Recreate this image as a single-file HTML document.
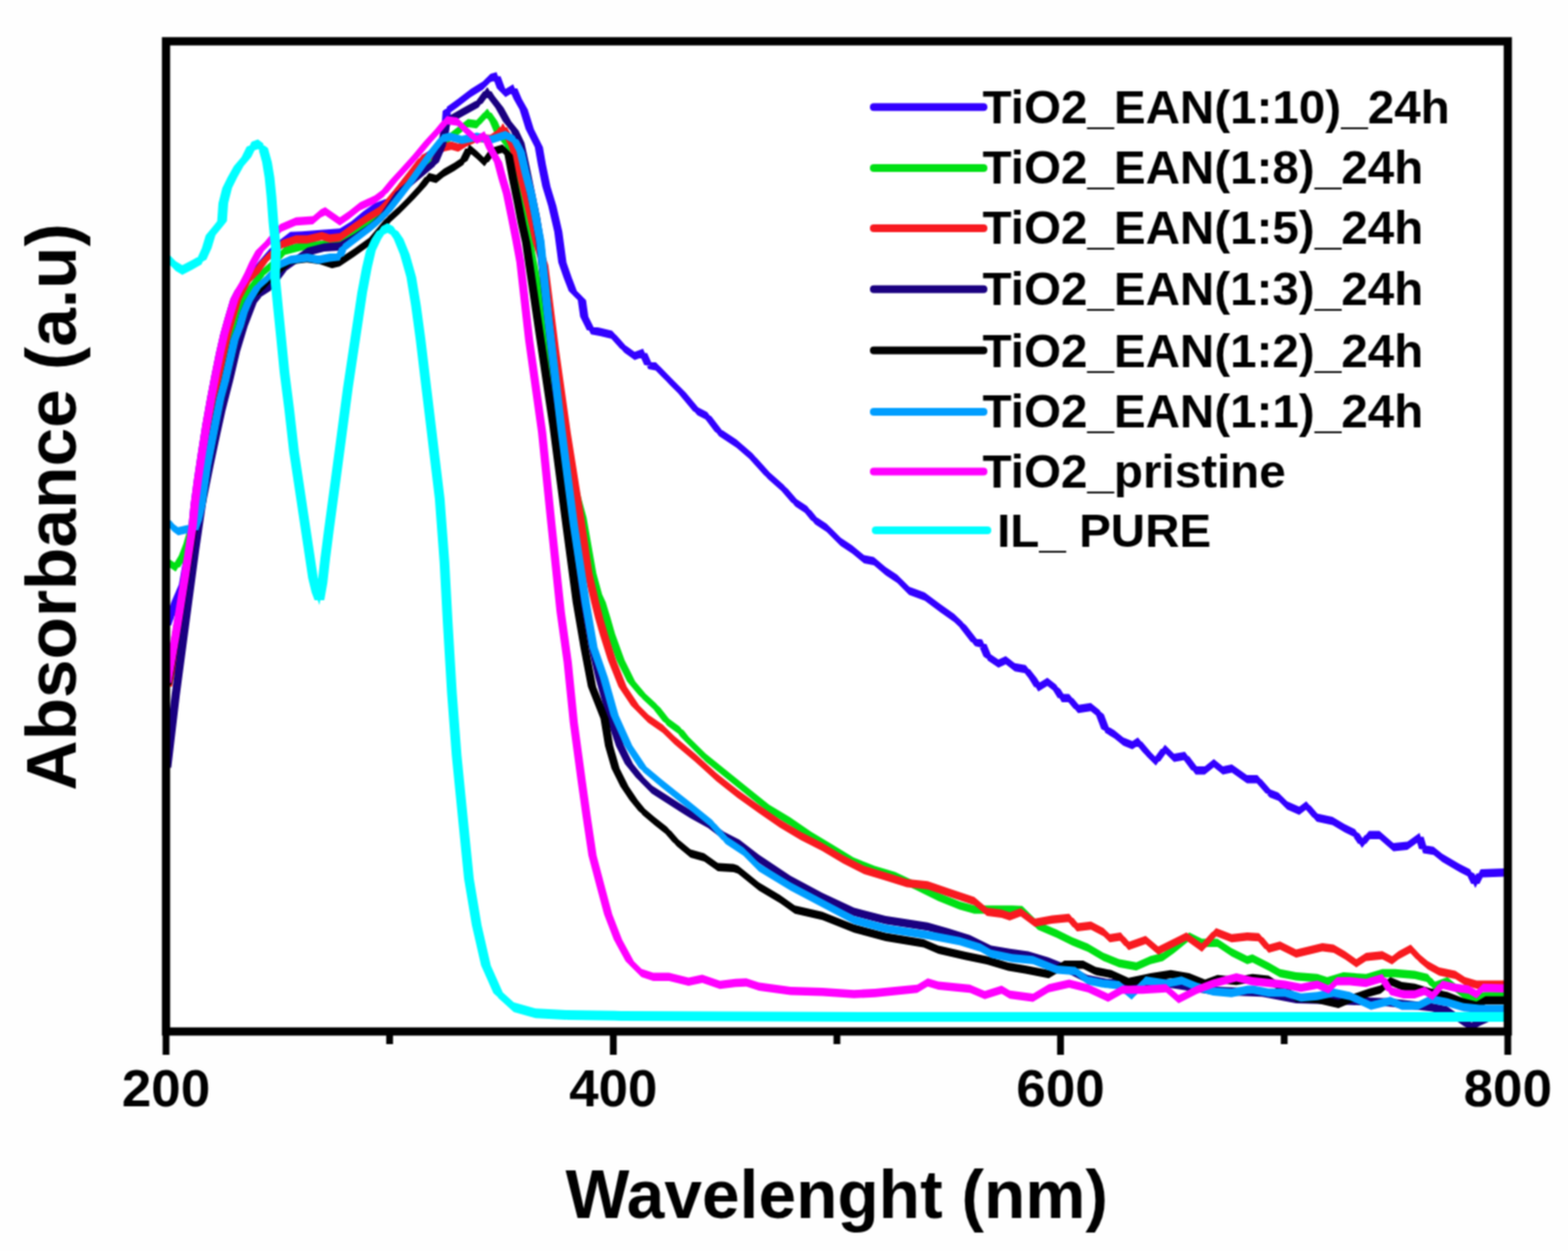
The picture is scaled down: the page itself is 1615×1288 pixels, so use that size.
<!DOCTYPE html>
<html><head><meta charset="utf-8"><title>Absorbance spectra</title>
<style>
html,body{margin:0;padding:0;background:#fefefe;}
body{width:1615px;height:1288px;overflow:hidden;}
svg{display:block;}
text{font-family:"Liberation Sans",Arial,sans-serif;font-weight:bold;fill:#000;}
</style></head><body>
<svg width="1615" height="1288" viewBox="0 0 1615 1288">

<defs><filter id="soft" x="0" y="0" width="1615" height="1288" filterUnits="userSpaceOnUse" color-interpolation-filters="sRGB"><feConvolveMatrix order="3" kernelMatrix="1 2 1 2 4 2 1 2 1" divisor="16" edgeMode="duplicate"/></filter></defs>
<rect x="0" y="0" width="1615" height="1288" fill="#fefefe"/>
<g filter="url(#soft)">
<rect x="171" y="42.5" width="1382" height="1019.5" fill="#fff"/>
<g fill="none" stroke-linejoin="round" stroke-linecap="round">
<path fill="#3300ff" stroke="none" d="M172,639.8 181,614.8 181,623.2 172,648.2ZM167.8,644 176.8,619 185.2,619 176.2,644ZM181,614.8 188.4,597.5 188.4,606 181,623.2ZM176.8,619 184.2,601.7 192.7,601.7 185.2,619ZM188.4,597.5 194,565.8 194,574.2 188.4,606ZM184.2,601.7 189.8,570 198.2,570 192.7,601.7ZM194,565.8 198.3,537.8 198.3,546.2 194,574.2ZM189.8,570 194.1,542 202.6,542 198.2,570ZM198.3,537.8 200.5,515.8 200.5,524.2 198.3,546.2ZM194.1,542 196.2,520 204.8,520 202.6,542ZM200.5,515.8 204,488.8 204,497.2 200.5,524.2ZM196.2,520 199.8,493 208.2,493 204.8,520ZM204,488.8 208,462.1 208,470.6 204,497.2ZM199.8,493 203.8,466.3 212.2,466.3 208.2,493ZM208,462.1 212.5,433.8 212.5,442.2 208,470.6ZM203.8,466.3 208.2,438 216.8,438 212.2,466.3ZM212.5,433.8 217.3,406.1 217.3,414.6 212.5,442.2ZM208.2,438 213.1,410.4 221.6,410.4 216.8,438ZM217.3,406.1 222,381.8 222,390.2 217.3,414.6ZM213.1,410.4 217.8,386 226.2,386 221.6,410.4ZM222,381.8 226.6,359.6 226.6,368.1 222,390.2ZM217.8,386 222.3,363.8 230.8,363.8 226.2,386ZM226.6,359.6 231,339.8 231,348.2 226.6,368.1ZM222.3,363.8 226.8,344 235.2,344 230.8,363.8ZM231,339.8 235.9,322.4 235.9,330.9 231,348.2ZM226.8,344 231.7,326.6 240.2,326.6 235.2,344ZM235.9,322.4 241.5,303.8 241.5,312.2 235.9,330.9ZM231.7,326.6 237.2,308 245.8,308 240.2,326.6ZM241.5,303.8 246,294.8 246,303.2 241.5,312.2ZM237.2,308 241.8,299 250.2,299 245.8,308ZM246,294.8 252,287.8 252,296.2 246,303.2ZM241.8,299 247.8,292 256.2,292 250.2,299ZM252,287.8 260,278.8 260,287.2 252,296.2ZM247.8,292 255.8,283 264.2,283 256.2,292ZM260,278.8 270,265.8 270,274.2 260,287.2ZM255.8,283 265.8,270 274.2,270 264.2,283ZM270,265.8 282,251.8 282,260.2 270,274.2ZM265.8,270 277.8,256 286.2,256 274.2,270ZM282,251.8 299,238.8 299,247.3 282,260.2ZM277.8,256 294.8,243.1 303.2,243.1 286.2,256ZM299,238.8 310.6,238.2 310.6,246.8 299,247.3ZM294.8,243.1 306.4,242.5 314.9,242.5 303.2,243.1ZM310.6,238.2 330,236.8 330,245.2 310.6,246.8ZM306.4,242.5 325.8,241 334.2,241 314.9,242.5ZM330,236.8 350,235.3 350,243.8 330,245.2ZM325.8,241 345.8,239.6 354.2,239.6 334.2,241ZM350,235.3 362,227.8 362,236.2 350,243.8ZM345.8,239.6 357.8,232 366.2,232 354.2,239.6ZM362,227.8 374.3,217.6 374.3,226.1 362,236.2ZM357.8,232 370.1,221.8 378.6,221.8 366.2,232ZM374.3,217.6 385.9,209.3 385.9,217.8 374.3,226.1ZM370.1,221.8 381.6,213.6 390.1,213.6 378.6,221.8ZM385.9,209.3 399.9,203.8 399.9,212.2 385.9,217.8ZM381.6,213.6 395.6,208 404.1,208 390.1,213.6ZM399.9,203.8 411.5,189.8 411.5,198.2 399.9,212.2ZM395.6,208 407.2,194 415.8,194 404.1,208ZM411.5,189.8 423.2,174.8 423.2,183.2 411.5,198.2ZM407.2,194 418.9,179 427.4,179 415.8,194ZM423.2,174.8 434.8,159.8 434.8,168.2 423.2,183.2ZM418.9,179 430.6,164 439.1,164 427.4,179ZM434.8,159.8 444,153.8 444,162.2 434.8,168.2ZM430.6,164 439.8,158 448.2,158 439.1,164ZM444,153.8 452,152.8 452,161.2 444,162.2ZM439.8,158 447.8,157 456.2,157 448.2,158ZM452,152.8 456,145.8 456,154.2 452,161.2ZM447.8,157 451.8,150 460.2,150 456.2,157ZM456,145.8 459,125.8 459,134.2 456,154.2ZM451.8,150 454.8,130 463.2,130 460.2,150ZM459,125.8 460.2,110 460.2,118.5 459,134.2ZM454.8,130 455.9,114.3 464.4,114.3 463.2,130ZM460.2,110 471,102.3 471,110.8 460.2,118.5ZM455.9,114.3 466.8,106.6 475.2,106.6 464.4,114.3ZM471,102.3 485,91.5 485,100 471,110.8ZM466.8,106.6 480.8,95.7 489.2,95.7 475.2,106.6ZM485,91.5 497.5,83.8 497.5,92.2 485,100ZM480.8,95.7 493.2,88 501.8,88 489.2,95.7ZM497.5,83.8 505.2,76 505.2,84.5 497.5,92.2ZM493.2,88 500.9,80.2 509.4,80.2 501.8,88ZM505.2,76 511.4,74.3 511.4,82.8 505.2,84.5ZM500.9,80.2 507.1,78.6 515.6,78.6 509.4,80.2ZM511.4,74.3 516,86.8 516,95.2 511.4,82.8ZM515.6,78.6 520.2,91 511.8,91 507.1,78.6ZM516,86.8 520.7,91.5 520.7,100 516,95.2ZM520.2,91 525,95.7 516.5,95.7 511.8,91ZM520.7,91.5 528.5,86.8 528.5,95.2 520.7,100ZM516.5,95.7 524.2,91 532.8,91 525,95.7ZM528.5,86.8 533.2,97.8 533.2,106.2 528.5,95.2ZM532.8,91 537.5,102 529,102 524.2,91ZM533.2,97.8 539.4,108.5 539.4,117 533.2,106.2ZM537.5,102 543.6,112.8 535.1,112.8 529,102ZM539.4,108.5 545.6,128.8 545.6,137.2 539.4,117ZM543.6,112.8 549.9,133 541.4,133 535.1,112.8ZM545.6,128.8 555,147.3 555,155.8 545.6,137.2ZM549.9,133 559.2,151.6 550.8,151.6 541.4,133ZM555,147.3 558,164.4 558,172.9 555,155.8ZM559.2,151.6 562.2,168.7 553.8,168.7 550.8,151.6ZM558,164.4 562.7,187.8 562.7,196.2 558,172.9ZM562.2,168.7 567,192 558.5,192 553.8,168.7ZM562.7,187.8 568.9,207.8 568.9,216.2 562.7,196.2ZM567,192 573.1,212 564.6,212 558.5,192ZM568.9,207.8 575,234.3 575,242.8 568.9,216.2ZM573.1,212 579.2,238.6 570.8,238.6 564.6,212ZM575,234.3 579.2,265.9 579.2,274.4 575,242.8ZM579.2,238.6 583.5,270.2 575,270.2 570.8,238.6ZM579.2,265.9 584.6,281.4 584.6,289.9 579.2,274.4ZM583.5,270.2 588.9,285.7 580.4,285.7 575,270.2ZM584.6,281.4 590,295.4 590,303.9 584.6,289.9ZM588.9,285.7 594.2,299.7 585.8,299.7 580.4,285.7ZM590,295.4 599.4,304.8 599.4,313.2 590,303.9ZM594.2,299.7 603.6,309 595.1,309 585.8,299.7ZM599.4,304.8 601.7,321.8 601.7,330.2 599.4,313.2ZM603.6,309 606,326 597.5,326 595.1,309ZM601.7,321.8 608.7,335.8 608.7,344.2 601.7,330.2ZM606,326 613,340 604.5,340 597.5,326ZM608.7,335.8 618,337.4 618,345.9 608.7,344.2ZM613,340 622.2,341.6 613.8,341.6 604.5,340ZM618,337.4 630.4,340.4 630.4,348.9 618,345.9ZM622.2,341.6 634.6,344.7 626.1,344.7 613.8,341.6ZM630.4,340.4 642.9,354.4 642.9,362.9 630.4,348.9ZM634.6,344.7 647.1,358.7 638.6,358.7 626.1,344.7ZM642.9,354.4 653.7,362.2 653.7,370.8 642.9,362.9ZM647.1,358.7 658,366.5 649.5,366.5 638.6,358.7ZM653.7,362.2 662.3,359.1 662.3,367.6 653.7,370.8ZM649.5,366.5 658,363.4 666.5,363.4 658,366.5ZM662.3,359.1 667.7,371.6 667.7,380.1 662.3,367.6ZM666.5,363.4 672,375.8 663.5,375.8 658,363.4ZM667.7,371.6 675.5,373.1 675.5,381.6 667.7,380.1ZM672,375.8 679.8,377.3 671.2,377.3 663.5,375.8ZM675.5,373.1 686.3,383.9 686.3,392.4 675.5,381.6ZM679.8,377.3 690.5,388.2 682,388.2 671.2,377.3ZM686.3,383.9 690,387.9 690,396.4 686.3,392.4ZM690.5,388.2 694.2,392.1 685.8,392.1 682,388.2ZM690,387.9 702.1,399.9 702.1,408.4 690,396.4ZM694.2,392.1 706.4,404.2 697.9,404.2 685.8,392.1ZM702.1,399.9 718.3,419.1 718.3,427.6 702.1,408.4ZM706.4,404.2 722.5,423.4 714,423.4 697.9,404.2ZM718.3,419.1 728.4,424.2 728.4,432.8 718.3,427.6ZM722.5,423.4 732.6,428.5 724.1,428.5 714,423.4ZM728.4,424.2 740.5,440.4 740.5,448.9 728.4,432.8ZM732.6,428.5 744.8,444.6 736.2,444.6 724.1,428.5ZM740.5,440.4 758.6,452.4 758.6,460.9 740.5,448.9ZM744.8,444.6 762.9,456.7 754.4,456.7 736.2,444.6ZM758.6,452.4 774.8,466.6 774.8,475.1 758.6,460.9ZM762.9,456.7 779,470.9 770.5,470.9 754.4,456.7ZM774.8,466.6 791,484.8 791,493.2 774.8,475.1ZM779,470.9 795.2,489 786.8,489 770.5,470.9ZM791,484.8 807.1,498.9 807.1,507.4 791,493.2ZM795.2,489 811.4,503.2 802.9,503.2 786.8,489ZM807.1,498.9 819.2,513 819.2,521.5 807.1,507.4ZM811.4,503.2 823.5,517.3 815,517.3 802.9,503.2ZM819.2,513 831.3,521.1 831.3,529.6 819.2,521.5ZM823.5,517.3 835.5,525.4 827,525.4 815,517.3ZM831.3,521.1 839.4,531.2 839.4,539.8 831.3,529.6ZM835.5,525.4 843.6,535.5 835.1,535.5 827,525.4ZM839.4,531.2 851.5,539.2 851.5,547.8 839.4,539.8ZM843.6,535.5 855.8,543.5 847.2,543.5 835.1,535.5ZM851.5,539.2 865.7,553.5 865.7,562 851.5,547.8ZM855.8,543.5 870,557.7 861.5,557.7 847.2,543.5ZM865.7,553.5 877.8,561.5 877.8,570 865.7,562ZM870,557.7 882,565.7 873.5,565.7 861.5,557.7ZM877.8,561.5 889.9,571.5 889.9,580 877.8,570ZM882,565.7 894.1,575.8 885.6,575.8 873.5,565.7ZM889.9,571.5 900,573.6 900,582.1 889.9,580ZM894.1,575.8 904.2,577.9 895.8,577.9 885.6,575.8ZM900,573.6 912.1,583.8 912.1,592.2 900,582.1ZM904.2,577.9 916.4,588 907.9,588 895.8,577.9ZM912.1,583.8 924.2,591.8 924.2,600.2 912.1,592.2ZM916.4,588 928.5,596 920,596 907.9,588ZM924.2,591.8 936.3,603.9 936.3,612.4 924.2,600.2ZM928.5,596 940.5,608.1 932,608.1 920,596ZM936.3,603.9 952.5,610 952.5,618.5 936.3,612.4ZM940.5,608.1 956.8,614.2 948.2,614.2 932,608.1ZM952.5,610 968.6,622 968.6,630.5 952.5,618.5ZM956.8,614.2 972.9,626.3 964.4,626.3 948.2,614.2ZM968.6,622 982.8,632.1 982.8,640.6 968.6,630.5ZM972.9,626.3 987,636.4 978.5,636.4 964.4,626.3ZM982.8,632.1 991.2,640 991.2,648.5 982.8,640.6ZM987,636.4 995.5,644.2 987,644.2 978.5,636.4ZM991.2,640 1004.2,656.8 1004.2,665.2 991.2,648.5ZM995.5,644.2 1008.5,661 1000,661 987,644.2ZM1004.2,656.8 1011.7,658.6 1011.7,667.1 1004.2,665.2ZM1008.5,661 1016,662.9 1007.5,662.9 1000,661ZM1011.7,658.6 1017.3,671.6 1017.3,680.1 1011.7,667.1ZM1016,662.9 1021.5,675.9 1013,675.9 1007.5,662.9ZM1017.3,671.6 1028.4,679.1 1028.4,687.6 1017.3,680.1ZM1021.5,675.9 1032.7,683.4 1024.2,683.4 1013,675.9ZM1028.4,679.1 1035.9,675.4 1035.9,683.9 1028.4,687.6ZM1024.2,683.4 1031.7,679.6 1040.2,679.6 1032.7,683.4ZM1035.9,675.4 1045.2,682.8 1045.2,691.2 1035.9,683.9ZM1040.2,679.6 1049.5,687 1041,687 1031.7,679.6ZM1045.2,682.8 1056.4,684.8 1056.4,693.2 1045.2,691.2ZM1049.5,687 1060.7,689 1052.2,689 1041,687ZM1056.4,684.8 1063.8,694 1063.8,702.5 1056.4,693.2ZM1060.7,689 1068,698.3 1059.5,698.3 1052.2,689ZM1063.8,694 1069.4,703.4 1069.4,711.9 1063.8,702.5ZM1068,698.3 1073.7,707.6 1065.2,707.6 1059.5,698.3ZM1069.4,703.4 1078.8,697.8 1078.8,706.2 1069.4,711.9ZM1065.2,707.6 1074.5,702 1083,702 1073.7,707.6ZM1078.8,697.8 1088,705.1 1088,713.6 1078.8,706.2ZM1083,702 1092.2,709.4 1083.8,709.4 1074.5,702ZM1088,705.1 1093.7,714.5 1093.7,723 1088,713.6ZM1092.2,709.4 1098,718.8 1089.5,718.8 1083.8,709.4ZM1093.7,714.5 1101.1,714.5 1101.1,723 1093.7,723ZM1101.1,714.5 1110.4,725.8 1110.4,734.2 1101.1,723ZM1105.3,718.8 1114.7,730 1106.2,730 1096.8,718.8ZM1110.4,725.8 1123.5,723.8 1123.5,732.2 1110.4,734.2ZM1106.2,730 1119.2,728 1127.8,728 1114.7,730ZM1123.5,723.8 1132.8,731.2 1132.8,739.8 1123.5,732.2ZM1127.8,728 1137,735.5 1128.5,735.5 1119.2,728ZM1132.8,731.2 1138.4,746.1 1138.4,754.6 1132.8,739.8ZM1137,735.5 1142.7,750.4 1134.2,750.4 1128.5,735.5ZM1138.4,746.1 1147.7,751.8 1147.7,760.2 1138.4,754.6ZM1142.7,750.4 1152,756 1143.5,756 1134.2,750.4ZM1147.7,751.8 1157,759.2 1157,767.8 1147.7,760.2ZM1152,756 1161.2,763.5 1152.8,763.5 1143.5,756ZM1157,759.2 1166.3,763 1166.3,771.5 1157,767.8ZM1161.2,763.5 1170.5,767.2 1162,767.2 1152.8,763.5ZM1166.3,763 1172,759.2 1172,767.8 1166.3,771.5ZM1162,767.2 1167.8,763.5 1176.2,763.5 1170.5,767.2ZM1172,759.2 1181.2,770.4 1181.2,778.9 1172,767.8ZM1176.2,763.5 1185.5,774.6 1177,774.6 1167.8,763.5ZM1181.2,770.4 1190.5,779.8 1190.5,788.2 1181.2,778.9ZM1185.5,774.6 1194.8,784 1186.2,784 1177,774.6ZM1190.5,779.8 1199.9,766.8 1199.9,775.2 1190.5,788.2ZM1186.2,784 1195.7,771 1204.2,771 1194.8,784ZM1199.9,766.8 1209.2,776 1209.2,784.5 1199.9,775.2ZM1204.2,771 1213.5,780.2 1205,780.2 1195.7,771ZM1209.2,776 1220.4,774.1 1220.4,782.6 1209.2,784.5ZM1205,780.2 1216.2,778.4 1224.7,778.4 1213.5,780.2ZM1220.4,774.1 1231.5,789 1231.5,797.5 1220.4,782.6ZM1224.7,778.4 1235.8,793.3 1227.2,793.3 1216.2,778.4ZM1231.5,789 1240.9,789 1240.9,797.5 1231.5,797.5ZM1240.9,789 1250.2,781.5 1250.2,790 1240.9,797.5ZM1236.7,793.3 1246,785.8 1254.5,785.8 1245.2,793.3ZM1250.2,781.5 1259.5,789 1259.5,797.5 1250.2,790ZM1254.5,785.8 1263.8,793.3 1255.2,793.3 1246,785.8ZM1259.5,789 1268.8,787.1 1268.8,795.6 1259.5,797.5ZM1255.2,793.3 1264.5,791.4 1273,791.4 1263.8,793.3ZM1268.8,787.1 1284.4,798 1284.4,806.5 1268.8,795.6ZM1273,791.4 1288.7,802.3 1280.2,802.3 1264.5,791.4ZM1284.4,798 1295.1,798 1295.1,806.5 1284.4,806.5ZM1295.1,798 1307.7,812.5 1307.7,821 1295.1,806.5ZM1299.3,802.3 1312,816.7 1303.5,816.7 1290.8,802.3ZM1307.7,812.5 1316.7,816 1316.7,824.5 1307.7,821ZM1312,816.7 1321,820.3 1312.5,820.3 1303.5,816.7ZM1316.7,816 1325.7,825 1325.7,833.5 1316.7,824.5ZM1321,820.3 1330,829.3 1321.5,829.3 1312.5,820.3ZM1325.7,825 1338.2,830.4 1338.2,838.9 1325.7,833.5ZM1330,829.3 1342.5,834.6 1334,834.6 1321.5,829.3ZM1338.2,830.4 1345.4,825 1345.4,833.5 1338.2,838.9ZM1334,834.6 1341.2,829.3 1349.7,829.3 1342.5,834.6ZM1345.4,825 1356.2,837.5 1356.2,846 1345.4,833.5ZM1349.7,829.3 1360.5,841.8 1352,841.8 1341.2,829.3ZM1356.2,837.5 1372.4,841.1 1372.4,849.6 1356.2,846ZM1360.5,841.8 1376.7,845.4 1368.2,845.4 1352,841.8ZM1372.4,841.1 1385,848.4 1385,856.9 1372.4,849.6ZM1376.7,845.4 1389.2,852.6 1380.8,852.6 1368.2,845.4ZM1385,848.4 1395.7,853.8 1395.7,862.2 1385,856.9ZM1389.2,852.6 1400,858 1391.5,858 1380.8,852.6ZM1395.7,853.8 1402.9,864.5 1402.9,873 1395.7,862.2ZM1400,858 1407.2,868.8 1398.7,868.8 1391.5,858ZM1402.9,864.5 1410,855.5 1410,864 1402.9,873ZM1398.7,868.8 1405.8,859.8 1414.2,859.8 1407.2,868.8ZM1410,855.5 1420.8,855.5 1420.8,864 1410,864ZM1420.8,855.5 1435.2,868.1 1435.2,876.6 1420.8,864ZM1425,859.8 1439.5,872.4 1431,872.4 1416.5,859.8ZM1435.2,868.1 1449.6,866.4 1449.6,874.9 1435.2,876.6ZM1431,872.4 1445.3,870.6 1453.8,870.6 1439.5,872.4ZM1449.6,866.4 1462.1,857.4 1462.1,865.9 1449.6,874.9ZM1445.3,870.6 1457.8,861.6 1466.3,861.6 1453.8,870.6ZM1462.1,857.4 1465.7,869.9 1465.7,878.4 1462.1,865.9ZM1466.3,861.6 1470,874.1 1461.5,874.1 1457.8,861.6ZM1465.7,869.9 1476.5,871.8 1476.5,880.2 1465.7,878.4ZM1470,874.1 1480.8,876 1472.2,876 1461.5,874.1ZM1476.5,871.8 1485.5,878.9 1485.5,887.4 1476.5,880.2ZM1480.8,876 1489.8,883.1 1481.2,883.1 1472.2,876ZM1485.5,878.9 1503.4,889.6 1503.4,898.1 1485.5,887.4ZM1489.8,883.1 1507.7,893.9 1499.2,893.9 1481.2,883.1ZM1503.4,889.6 1514.2,895 1514.2,903.5 1503.4,898.1ZM1507.7,893.9 1518.5,899.3 1510,899.3 1499.2,893.9ZM1514.2,895 1519.6,905.8 1519.6,914.2 1514.2,903.5ZM1518.5,899.3 1523.8,910 1515.3,910 1510,899.3ZM1519.6,905.8 1525,895 1525,903.5 1519.6,914.2ZM1515.3,910 1520.8,899.3 1529.2,899.3 1523.8,910ZM1525,895 1551,894.1 1551,902.6 1525,903.5ZM1520.8,899.3 1546.8,898.4 1555.2,898.4 1529.2,899.3Z"/>
<path fill="#00e014" stroke="none" d="M173.5,575.1 181,580 181,588.5 173.5,583.6ZM177.8,579.4 185.2,584.3 176.8,584.3 169.2,579.4ZM181,580 188.4,567.8 188.4,576.2 181,588.5ZM176.8,584.3 184.2,572 192.7,572 185.2,584.3ZM188.4,567.8 193,555.8 193,564.2 188.4,576.2ZM184.2,572 188.8,560 197.2,560 192.7,572ZM193,555.8 198.3,537.8 198.3,546.2 193,564.2ZM188.8,560 194.1,542 202.6,542 197.2,560ZM198.3,537.8 205.8,490.8 205.8,499.2 198.3,546.2ZM194.1,542 201.6,495 210.1,495 202.6,542ZM205.8,490.8 210,465.8 210,474.2 205.8,499.2ZM201.6,495 205.8,470 214.2,470 210.1,495ZM210,465.8 214,445.8 214,454.2 210,474.2ZM205.8,470 209.8,450 218.2,450 214.2,470ZM214,445.8 219,420.8 219,429.2 214,454.2ZM209.8,450 214.8,425 223.2,425 218.2,450ZM219,420.8 224,395.8 224,404.2 219,429.2ZM214.8,425 219.8,400 228.2,400 223.2,425ZM224,395.8 229,375.8 229,384.2 224,404.2ZM219.8,400 224.8,380 233.2,380 228.2,400ZM229,375.8 234,355.8 234,364.2 229,384.2ZM224.8,380 229.8,360 238.2,360 233.2,380ZM234,355.8 239,340.8 239,349.2 234,364.2ZM229.8,360 234.8,345 243.2,345 238.2,360ZM239,340.8 244,325.8 244,334.2 239,349.2ZM234.8,345 239.8,330 248.2,330 243.2,345ZM244,325.8 250,307.8 250,316.2 244,334.2ZM239.8,330 245.8,312 254.2,312 248.2,330ZM250,307.8 256,295.8 256,304.2 250,316.2ZM245.8,312 251.8,300 260.2,300 254.2,312ZM256,295.8 262,287.8 262,296.2 256,304.2ZM251.8,300 257.8,292 266.2,292 260.2,300ZM262,287.8 269.9,277.2 269.9,285.8 262,296.2ZM257.8,292 265.6,281.5 274.1,281.5 266.2,292ZM269.9,277.2 279.2,269.1 279.2,277.6 269.9,285.8ZM265.6,281.5 274.9,273.4 283.4,273.4 274.1,281.5ZM279.2,269.1 293.2,253.9 293.2,262.4 279.2,277.6ZM274.9,273.4 288.9,258.2 297.4,258.2 283.4,273.4ZM293.2,253.9 310.6,249.3 310.6,257.9 293.2,262.4ZM288.9,258.2 306.4,253.6 314.9,253.6 297.4,258.2ZM310.6,249.3 328.1,248.2 328.1,256.6 310.6,257.9ZM306.4,253.6 323.9,252.4 332.4,252.4 314.9,253.6ZM328.1,248.2 350,245.8 350,254.2 328.1,256.6ZM323.9,252.4 345.8,250 354.2,250 332.4,252.4ZM350,245.8 370,231.8 370,240.2 350,254.2ZM345.8,250 365.8,236 374.2,236 354.2,250ZM370,231.8 390,217.8 390,226.2 370,240.2ZM365.8,236 385.8,222 394.2,222 374.2,236ZM390,217.8 410,195.8 410,204.2 390,226.2ZM385.8,222 405.8,200 414.2,200 394.2,222ZM410,195.8 430,172.8 430,181.2 410,204.2ZM405.8,200 425.8,177 434.2,177 414.2,200ZM430,172.8 450,150.8 450,159.2 430,181.2ZM425.8,177 445.8,155 454.2,155 434.2,177ZM450,150.8 465,135.8 465,144.2 450,159.2ZM445.8,155 460.8,140 469.2,140 454.2,155ZM465,135.8 482,122.5 482,131.1 465,144.2ZM460.8,140 477.8,126.8 486.2,126.8 469.2,140ZM482,122.5 491,123.8 491,132.2 482,131.1ZM486.2,126.8 495.2,128 486.8,128 477.8,126.8ZM491,123.8 502,111.8 502,120.2 491,132.2ZM486.8,128 497.8,116 506.2,116 495.2,128ZM502,111.8 508.3,120.8 508.3,129.2 502,120.2ZM506.2,116 512.5,125 504.1,125 497.8,116ZM508.3,120.8 513,131.8 513,140.2 508.3,129.2ZM512.5,125 517.2,136 508.8,136 504.1,125ZM513,131.8 523.9,145.8 523.9,154.2 513,140.2ZM517.2,136 528.1,150 519.6,150 508.8,136ZM523.9,145.8 533,179.8 533,188.2 523.9,154.2ZM528.1,150 537.2,184 528.8,184 519.6,150ZM533,179.8 541,210.8 541,219.2 533,188.2ZM537.2,184 545.2,215 536.8,215 528.8,184ZM541,210.8 547,255.8 547,264.2 541,219.2ZM545.2,215 551.2,260 542.8,260 536.8,215ZM547,255.8 560,325.8 560,334.2 547,264.2ZM551.2,260 564.2,330 555.8,330 542.8,260ZM560,325.8 576,440.8 576,449.2 560,334.2ZM564.2,330 580.2,445 571.8,445 555.8,330ZM576,440.8 600,528.8 600,537.2 576,449.2ZM580.2,445 604.2,533 595.8,533 571.8,445ZM600,528.8 610,585.8 610,594.2 600,537.2ZM604.2,533 614.2,590 605.8,590 595.8,533ZM610,585.8 616,607.8 616,616.2 610,594.2ZM614.2,590 620.2,612 611.8,612 605.8,590ZM616,607.8 619.6,615.8 619.6,624.2 616,616.2ZM620.2,612 623.9,620 615.4,620 611.8,612ZM619.6,615.8 624.5,631.8 624.5,640.2 619.6,624.2ZM623.9,620 628.8,636 620.2,636 615.4,620ZM624.5,631.8 629.3,648.4 629.3,656.9 624.5,640.2ZM628.8,636 633.5,652.6 625,652.6 620.2,636ZM629.3,648.4 639.1,675.5 639.1,684 629.3,656.9ZM633.5,652.6 643.4,679.8 634.9,679.8 625,652.6ZM639.1,675.5 650,697.2 650,705.8 639.1,684ZM643.4,679.8 654.2,701.5 645.8,701.5 634.9,679.8ZM650,697.2 662,711.5 662,720 650,705.8ZM654.2,701.5 666.2,715.7 657.8,715.7 645.8,701.5ZM662,711.5 676,724.5 676,733 662,720ZM666.2,715.7 680.2,728.7 671.8,728.7 657.8,715.7ZM676,724.5 687,738.5 687,747 676,733ZM680.2,728.7 691.2,742.8 682.8,742.8 671.8,728.7ZM687,738.5 700,747.9 700,756.4 687,747ZM691.2,742.8 704.2,752.1 695.8,752.1 682.8,742.8ZM700,747.9 705.2,754.5 705.2,763 700,756.4ZM704.2,752.1 709.5,758.7 701,758.7 695.8,752.1ZM705.2,754.5 727,776.1 727,784.6 705.2,763ZM709.5,758.7 731.2,780.4 722.8,780.4 701,758.7ZM727,776.1 748.7,793.5 748.7,802 727,784.6ZM731.2,780.4 753,797.8 744.5,797.8 722.8,780.4ZM748.7,793.5 770.4,811 770.4,819.5 748.7,802ZM753,797.8 774.6,815.2 766.1,815.2 744.5,797.8ZM770.4,811 792.2,828.4 792.2,836.9 770.4,819.5ZM774.6,815.2 796.5,832.6 788,832.6 766.1,815.2ZM792.2,828.4 813.9,841.5 813.9,850 792.2,836.9ZM796.5,832.6 818.1,845.7 809.6,845.7 788,832.6ZM813.9,841.5 835.7,856.6 835.7,865.1 813.9,850ZM818.1,845.7 840,860.9 831.5,860.9 809.6,845.7ZM835.7,856.6 857.4,869.6 857.4,878.1 835.7,865.1ZM840,860.9 861.6,873.9 853.1,873.9 831.5,860.9ZM857.4,869.6 879.1,882.8 879.1,891.2 857.4,878.1ZM861.6,873.9 883.4,887 874.9,887 853.1,873.9ZM879.1,882.8 900.9,891.5 900.9,900 879.1,891.2ZM883.4,887 905.1,895.7 896.6,895.7 874.9,887ZM900.9,891.5 922,897.8 922,906.2 900.9,900ZM905.1,895.7 926.2,902 917.8,902 896.6,895.7ZM922,897.8 944.8,908.4 944.8,916.9 922,906.2ZM926.2,902 949,912.6 940.5,912.6 917.8,902ZM944.8,908.4 966.5,919.2 966.5,927.8 944.8,916.9ZM949,912.6 970.8,923.5 962.2,923.5 940.5,912.6ZM966.5,919.2 988.3,928 988.3,936.5 966.5,927.8ZM970.8,923.5 992.5,932.2 984,932.2 962.2,923.5ZM988.3,928 1003.5,932.2 1003.5,940.8 988.3,936.5ZM992.5,932.2 1007.8,936.5 999.2,936.5 984,932.2ZM1003.5,932.2 1020.9,932.2 1020.9,940.8 1003.5,940.8ZM1020.9,932.2 1042.6,932.2 1042.6,940.8 1020.9,940.8ZM1042.6,932.2 1052.9,932.8 1052.9,941.2 1042.6,940.8ZM1046.8,936.5 1057.2,937 1048.7,937 1038.3,936.5ZM1052.9,932.8 1069,948.8 1069,957.2 1052.9,941.2ZM1057.2,937 1073.2,953 1064.8,953 1048.7,937ZM1069,948.8 1088.3,957 1088.3,965.5 1069,957.2ZM1073.2,953 1092.5,961.2 1084,961.2 1064.8,953ZM1088.3,957 1104.4,965 1104.4,973.5 1088.3,965.5ZM1092.5,961.2 1108.7,969.2 1100.2,969.2 1084,961.2ZM1104.4,965 1120.5,971.5 1120.5,980 1104.4,973.5ZM1108.7,969.2 1124.8,975.7 1116.2,975.7 1100.2,969.2ZM1120.5,971.5 1136.6,981 1136.6,989.5 1120.5,980ZM1124.8,975.7 1140.8,985.3 1132.3,985.3 1116.2,975.7ZM1136.6,981 1152.7,987.5 1152.7,996 1136.6,989.5ZM1140.8,985.3 1157,991.8 1148.5,991.8 1132.3,985.3ZM1152.7,987.5 1170.4,990.8 1170.4,999.2 1152.7,996ZM1157,991.8 1174.7,995 1166.2,995 1148.5,991.8ZM1170.4,990.8 1185,984.2 1185,992.8 1170.4,999.2ZM1166.2,995 1180.8,988.5 1189.2,988.5 1174.7,995ZM1185,984.2 1197.8,981 1197.8,989.5 1185,992.8ZM1180.8,988.5 1193.5,985.3 1202,985.3 1189.2,988.5ZM1197.8,981 1209,973 1209,981.5 1197.8,989.5ZM1193.5,985.3 1204.8,977.3 1213.2,977.3 1202,985.3ZM1209,973 1225,960.1 1225,968.6 1209,981.5ZM1204.8,977.3 1220.8,964.4 1229.2,964.4 1213.2,977.3ZM1225,960.1 1238,966.5 1238,975 1225,968.6ZM1229.2,964.4 1242.2,970.8 1233.8,970.8 1220.8,964.4ZM1238,966.5 1254,966.5 1254,975 1238,975ZM1254,966.5 1268.6,976.2 1268.6,984.8 1254,975ZM1258.2,970.8 1272.8,980.5 1264.3,980.5 1249.8,970.8ZM1268.6,976.2 1284.7,984.2 1284.7,992.8 1268.6,984.8ZM1272.8,980.5 1289,988.5 1280.5,988.5 1264.3,980.5ZM1284.7,984.2 1290,982.6 1290,991.1 1284.7,992.8ZM1280.5,988.5 1285.8,986.9 1294.2,986.9 1289,988.5ZM1290,982.6 1306.7,991 1306.7,999.5 1290,991.1ZM1294.2,986.9 1311,995.3 1302.5,995.3 1285.8,986.9ZM1306.7,991 1318.4,997.8 1318.4,1006.2 1306.7,999.5ZM1311,995.3 1322.7,1002 1314.2,1002 1302.5,995.3ZM1318.4,997.8 1335,1001 1335,1009.5 1318.4,1006.2ZM1322.7,1002 1339.2,1005.3 1330.8,1005.3 1314.2,1002ZM1335,1001 1356.9,1002.8 1356.9,1011.2 1335,1009.5ZM1339.2,1005.3 1361.2,1007 1352.7,1007 1330.8,1005.3ZM1356.9,1002.8 1367,1006 1367,1014.5 1356.9,1011.2ZM1361.2,1007 1371.2,1010.3 1362.8,1010.3 1352.7,1007ZM1367,1006 1383.6,1001 1383.6,1009.5 1367,1014.5ZM1362.8,1010.3 1379.3,1005.3 1387.8,1005.3 1371.2,1010.3ZM1383.6,1001 1407,1002.8 1407,1011.2 1383.6,1009.5ZM1387.8,1005.3 1411.2,1007 1402.8,1007 1379.3,1005.3ZM1407,1002.8 1423.8,997.8 1423.8,1006.2 1407,1011.2ZM1402.8,1007 1419.5,1002 1428,1002 1411.2,1007ZM1423.8,997.8 1437,997.8 1437,1006.2 1423.8,1006.2ZM1437,997.8 1457.2,999.4 1457.2,1007.9 1437,1006.2ZM1441.2,1002 1461.5,1003.6 1453,1003.6 1432.8,1002ZM1457.2,999.4 1470.6,1002.8 1470.6,1011.2 1457.2,1007.9ZM1461.5,1003.6 1474.8,1007 1466.3,1007 1453,1003.6ZM1470.6,1002.8 1477.3,1011 1477.3,1019.5 1470.6,1011.2ZM1474.8,1007 1481.5,1015.3 1473,1015.3 1466.3,1007ZM1477.3,1011 1490.7,1006 1490.7,1014.5 1477.3,1019.5ZM1473,1015.3 1486.5,1010.3 1495,1010.3 1481.5,1015.3ZM1490.7,1006 1507.4,1019.5 1507.4,1028 1490.7,1014.5ZM1495,1010.3 1511.7,1023.7 1503.2,1023.7 1486.5,1010.3ZM1507.4,1019.5 1517.4,1024.5 1517.4,1033 1507.4,1028ZM1511.7,1023.7 1521.7,1028.7 1513.2,1028.7 1503.2,1023.7ZM1517.4,1024.5 1529,1021.2 1529,1029.7 1517.4,1033ZM1513.2,1028.7 1524.8,1025.4 1533.2,1025.4 1521.7,1028.7ZM1529,1021.2 1551,1021.2 1551,1029.7 1529,1029.7Z"/>
<path fill="#f81a20" stroke="none" d="M173,702.8 180,667.8 180,676.2 173,711.2ZM168.8,707 175.8,672 184.2,672 177.2,707ZM180,667.8 188,625.8 188,634.2 180,676.2ZM175.8,672 183.8,630 192.2,630 184.2,672ZM188,625.8 196,570.8 196,579.2 188,634.2ZM183.8,630 191.8,575 200.2,575 192.2,630ZM196,570.8 200,540.8 200,549.2 196,579.2ZM191.8,575 195.8,545 204.2,545 200.2,575ZM200,540.8 203,525.8 203,534.2 200,549.2ZM195.8,545 198.8,530 207.2,530 204.2,545ZM203,525.8 207,488.8 207,497.2 203,534.2ZM198.8,530 202.8,493 211.2,493 207.2,530ZM207,488.8 211,461.8 211,470.2 207,497.2ZM202.8,493 206.8,466 215.2,466 211.2,493ZM211,461.8 215.5,433.8 215.5,442.2 211,470.2ZM206.8,466 211.2,438 219.8,438 215.2,466ZM215.5,433.8 220,405.8 220,414.2 215.5,442.2ZM211.2,438 215.8,410 224.2,410 219.8,438ZM220,405.8 225,381.8 225,390.2 220,414.2ZM215.8,410 220.8,386 229.2,386 224.2,410ZM225,381.8 229.6,359.8 229.6,368.2 225,390.2ZM220.8,386 225.3,364 233.8,364 229.2,386ZM229.6,359.8 234,339.8 234,348.2 229.6,368.2ZM225.3,364 229.8,344 238.2,344 233.8,364ZM234,339.8 239,322.4 239,330.9 234,348.2ZM229.8,344 234.8,326.6 243.2,326.6 238.2,344ZM239,322.4 244.5,303.8 244.5,312.2 239,330.9ZM234.8,326.6 240.2,308 248.8,308 243.2,326.6ZM244.5,303.8 250,293.8 250,302.2 244.5,312.2ZM240.2,308 245.8,298 254.2,298 248.8,308ZM250,293.8 254,285.8 254,294.2 250,302.2ZM245.8,298 249.8,290 258.2,290 254.2,298ZM254,285.8 262.9,277.2 262.9,285.8 254,294.2ZM249.8,290 258.6,281.5 267.1,281.5 258.2,290ZM262.9,277.2 272.2,264.4 272.2,272.9 262.9,285.8ZM258.6,281.5 267.9,268.7 276.4,268.7 267.1,281.5ZM272.2,264.4 280.4,256.4 280.4,264.9 272.2,272.9ZM267.9,268.7 276.1,260.6 284.6,260.6 276.4,268.7ZM280.4,256.4 290.8,246.9 290.8,255.4 280.4,264.9ZM276.1,260.6 286.6,251.2 295.1,251.2 284.6,260.6ZM290.8,246.9 304.8,242.3 304.8,250.8 290.8,255.4ZM286.6,251.2 300.6,246.6 309.1,246.6 295.1,251.2ZM304.8,242.3 316.5,242.3 316.5,250.8 304.8,250.8ZM316.5,242.3 331.6,238.8 331.6,247.3 316.5,250.8ZM312.2,246.6 327.4,243.1 335.9,243.1 320.8,246.6ZM331.6,238.8 339.7,241.2 339.7,249.7 331.6,247.3ZM335.9,243.1 343.9,245.4 335.4,245.4 327.4,243.1ZM339.7,241.2 350,240.1 350,248.6 339.7,249.7ZM335.4,245.4 345.8,244.3 354.2,244.3 343.9,245.4ZM350,240.1 365,229.2 365,237.7 350,248.6ZM345.8,244.3 360.8,233.4 369.2,233.4 354.2,244.3ZM365,229.2 378.9,219.8 378.9,228.3 365,237.7ZM360.8,233.4 374.6,224.1 383.1,224.1 369.2,233.4ZM378.9,219.8 390.6,212.8 390.6,221.3 378.9,228.3ZM374.6,224.1 386.4,217.1 394.9,217.1 383.1,224.1ZM390.6,212.8 399.9,203.6 399.9,212.1 390.6,221.3ZM386.4,217.1 395.6,207.8 404.1,207.8 394.9,217.1ZM399.9,203.6 411.5,189.6 411.5,198.1 399.9,212.1ZM395.6,207.8 407.2,193.8 415.8,193.8 404.1,207.8ZM411.5,189.6 423.2,174.4 423.2,182.9 411.5,198.1ZM407.2,193.8 418.9,178.7 427.4,178.7 415.8,193.8ZM423.2,174.4 434.8,159.3 434.8,167.8 423.2,182.9ZM418.9,178.7 430.6,163.6 439.1,163.6 427.4,178.7ZM434.8,159.3 444,155.8 444,164.2 434.8,167.8ZM430.6,163.6 439.8,160 448.2,160 439.1,163.6ZM444,155.8 456,147.8 456,156.2 444,164.2ZM439.8,160 451.8,152 460.2,152 448.2,160ZM456,147.8 465,145.8 465,154.2 456,156.2ZM451.8,152 460.8,150 469.2,150 460.2,152ZM465,145.8 472,147.8 472,156.2 465,154.2ZM469.2,150 476.2,152 467.8,152 460.8,150ZM472,147.8 480,142.8 480,151.2 472,156.2ZM467.8,152 475.8,147 484.2,147 476.2,152ZM480,142.8 491,137.8 491,146.2 480,151.2ZM475.8,147 486.8,142 495.2,142 484.2,147ZM491,137.8 505,138.8 505,147.2 491,146.2ZM495.2,142 509.2,143 500.8,143 486.8,142ZM505,138.8 515,131.8 515,140.2 505,147.2ZM500.8,143 510.8,136 519.2,136 509.2,143ZM515,131.8 518,126.8 518,135.2 515,140.2ZM510.8,136 513.8,131 522.2,131 519.2,136ZM518,126.8 522,133.8 522,142.2 518,135.2ZM522.2,131 526.2,138 517.8,138 513.8,131ZM522,133.8 528,145.8 528,154.2 522,142.2ZM526.2,138 532.2,150 523.8,150 517.8,138ZM528,145.8 535,170.8 535,179.2 528,154.2ZM532.2,150 539.2,175 530.8,175 523.8,150ZM535,170.8 545,210.8 545,219.2 535,179.2ZM539.2,175 549.2,215 540.8,215 530.8,175ZM545,210.8 553,245.8 553,254.2 545,219.2ZM549.2,215 557.2,250 548.8,250 540.8,215ZM553,245.8 560.5,268.8 560.5,277.2 553,254.2ZM557.2,250 564.8,273 556.2,273 548.8,250ZM560.5,268.8 571.5,355.8 571.5,364.2 560.5,277.2ZM564.8,273 575.8,360 567.2,360 556.2,273ZM571.5,355.8 583.5,440.8 583.5,449.2 571.5,364.2ZM575.8,360 587.8,445 579.2,445 567.2,360ZM583.5,440.8 597.5,528.8 597.5,537.2 583.5,449.2ZM587.8,445 601.8,533 593.2,533 579.2,445ZM597.5,528.8 606,585.8 606,594.2 597.5,537.2ZM601.8,533 610.2,590 601.8,590 593.2,533ZM606,585.8 613,615.8 613,624.2 606,594.2ZM610.2,590 617.2,620 608.8,620 601.8,590ZM613,615.8 617,631.8 617,640.2 613,624.2ZM617.2,620 621.2,636 612.8,636 608.8,620ZM617,631.8 621.7,648.4 621.7,656.9 617,640.2ZM621.2,636 626,652.6 617.5,652.6 612.8,636ZM621.7,648.4 630.4,675.5 630.4,684 621.7,656.9ZM626,652.6 634.6,679.8 626.1,679.8 617.5,652.6ZM630.4,675.5 641.3,702.8 641.3,711.2 630.4,684ZM634.6,679.8 645.5,707 637,707 626.1,679.8ZM641.3,702.8 654.3,722.2 654.3,730.8 641.3,711.2ZM645.5,707 658.5,726.5 650,726.5 637,707ZM654.3,722.2 667.4,735.4 667.4,743.9 654.3,730.8ZM658.5,726.5 671.6,739.6 663.1,739.6 650,726.5ZM667.4,735.4 682.6,746.1 682.6,754.6 667.4,743.9ZM671.6,739.6 686.9,750.4 678.4,750.4 663.1,739.6ZM682.6,746.1 694.5,757.8 694.5,766.2 682.6,754.6ZM686.9,750.4 698.8,762 690.2,762 678.4,750.4ZM694.5,757.8 716.1,776.1 716.1,784.6 694.5,766.2ZM698.8,762 720.4,780.4 711.9,780.4 690.2,762ZM716.1,776.1 737.8,795.8 737.8,804.2 716.1,784.6ZM720.4,780.4 742,800 733.5,800 711.9,780.4ZM737.8,795.8 759.6,813.1 759.6,821.6 737.8,804.2ZM742,800 763.9,817.4 755.4,817.4 733.5,800ZM759.6,813.1 781.3,828.4 781.3,836.9 759.6,821.6ZM763.9,817.4 785.5,832.6 777,832.6 755.4,817.4ZM781.3,828.4 803,843.5 803,852 781.3,836.9ZM785.5,832.6 807.2,847.8 798.8,847.8 777,832.6ZM803,843.5 824.8,856.6 824.8,865.1 803,852ZM807.2,847.8 829,860.9 820.5,860.9 798.8,847.8ZM824.8,856.6 846.5,867.5 846.5,876 824.8,865.1ZM829,860.9 850.8,871.7 842.2,871.7 820.5,860.9ZM846.5,867.5 868.3,880.5 868.3,889 846.5,876ZM850.8,871.7 872.5,884.8 864,884.8 842.2,871.7ZM868.3,880.5 890,891.5 890,900 868.3,889ZM872.5,884.8 894.2,895.7 885.8,895.7 864,884.8ZM890,891.5 911.7,898 911.7,906.5 890,900ZM894.2,895.7 916,902.2 907.5,902.2 885.8,895.7ZM911.7,898 934,905 934,913.5 911.7,906.5ZM916,902.2 938.2,909.3 929.8,909.3 907.5,902.2ZM934,905 955.6,907.2 955.6,915.8 934,913.5ZM938.2,909.3 959.9,911.5 951.4,911.5 929.8,909.3ZM955.6,907.2 977.4,914.8 977.4,923.2 955.6,915.8ZM959.9,911.5 981.6,919 973.1,919 951.4,911.5ZM977.4,914.8 1003.5,923.5 1003.5,932 977.4,923.2ZM981.6,919 1007.8,927.8 999.2,927.8 973.1,919ZM1003.5,923.5 1016.5,934.5 1016.5,943 1003.5,932ZM1007.8,927.8 1020.8,938.7 1012.2,938.7 999.2,927.8ZM1016.5,934.5 1031.7,936.6 1031.7,945.1 1016.5,943ZM1020.8,938.7 1036,940.9 1027.5,940.9 1012.2,938.7ZM1031.7,936.6 1040,939.2 1040,947.8 1031.7,945.1ZM1036,940.9 1044.2,943.5 1035.8,943.5 1027.5,940.9ZM1040,939.2 1051.3,935.1 1051.3,943.6 1040,947.8ZM1035.8,943.5 1047,939.4 1055.5,939.4 1044.2,943.5ZM1051.3,935.1 1065.8,945.8 1065.8,954.2 1051.3,943.6ZM1055.5,939.4 1070,950 1061.5,950 1047,939.4ZM1065.8,945.8 1083.5,942.5 1083.5,951 1065.8,954.2ZM1061.5,950 1079.2,946.7 1087.8,946.7 1070,950ZM1083.5,942.5 1101.2,940.8 1101.2,949.2 1083.5,951ZM1079.2,946.7 1097,945 1105.5,945 1087.8,946.7ZM1101.2,940.8 1109.2,950.5 1109.2,959 1101.2,949.2ZM1105.5,945 1113.5,954.7 1105,954.7 1097,945ZM1109.2,950.5 1123.7,948.8 1123.7,957.2 1109.2,959ZM1105,954.7 1119.5,953 1128,953 1113.5,954.7ZM1123.7,948.8 1136.6,955.4 1136.6,963.9 1123.7,957.2ZM1128,953 1140.8,959.6 1132.3,959.6 1119.5,953ZM1136.6,955.4 1143,961.8 1143,970.2 1136.6,963.9ZM1140.8,959.6 1147.2,966 1138.8,966 1132.3,959.6ZM1143,961.8 1154.3,960.1 1154.3,968.6 1143,970.2ZM1138.8,966 1150,964.4 1158.5,964.4 1147.2,966ZM1154.3,960.1 1162.4,969.8 1162.4,978.2 1154.3,968.6ZM1158.5,964.4 1166.7,974 1158.2,974 1150,964.4ZM1162.4,969.8 1180,963.4 1180,971.9 1162.4,978.2ZM1158.2,974 1175.8,967.6 1184.2,967.6 1166.7,974ZM1180,963.4 1193,974.6 1193,983.1 1180,971.9ZM1184.2,967.6 1197.2,978.9 1188.8,978.9 1175.8,967.6ZM1193,974.6 1209,966.5 1209,975 1193,983.1ZM1188.8,978.9 1204.8,970.8 1213.2,970.8 1197.2,978.9ZM1209,966.5 1222,960.1 1222,968.6 1209,975ZM1204.8,970.8 1217.8,964.4 1226.2,964.4 1213.2,970.8ZM1222,960.1 1238,971.5 1238,980 1222,968.6ZM1226.2,964.4 1242.2,975.7 1233.8,975.7 1217.8,964.4ZM1238,971.5 1252.5,955.4 1252.5,963.9 1238,980ZM1233.8,975.7 1248.2,959.6 1256.8,959.6 1242.2,975.7ZM1252.5,955.4 1268.6,961.8 1268.6,970.2 1252.5,963.9ZM1256.8,959.6 1272.8,966 1264.3,966 1248.2,959.6ZM1268.6,961.8 1284.7,960.1 1284.7,968.6 1268.6,970.2ZM1264.3,966 1280.5,964.4 1289,964.4 1272.8,966ZM1284.7,960.1 1296.7,960.8 1296.7,969.2 1284.7,968.6ZM1289,964.4 1301,965 1292.5,965 1280.5,964.4ZM1296.7,960.8 1306.7,972.6 1306.7,981.1 1296.7,969.2ZM1301,965 1311,976.9 1302.5,976.9 1292.5,965ZM1306.7,972.6 1318.4,969.2 1318.4,977.8 1306.7,981.1ZM1302.5,976.9 1314.2,973.5 1322.7,973.5 1311,976.9ZM1318.4,969.2 1335,977.6 1335,986.1 1318.4,977.8ZM1322.7,973.5 1339.2,981.9 1330.8,981.9 1314.2,973.5ZM1335,977.6 1348.5,974.2 1348.5,982.8 1335,986.1ZM1330.8,981.9 1344.2,978.5 1352.8,978.5 1339.2,981.9ZM1348.5,974.2 1362,971 1362,979.5 1348.5,982.8ZM1344.2,978.5 1357.8,975.2 1366.2,975.2 1352.8,978.5ZM1362,971 1373.6,972.6 1373.6,981.1 1362,979.5ZM1366.2,975.2 1377.8,976.9 1369.3,976.9 1357.8,975.2ZM1373.6,972.6 1385.3,979.2 1385.3,987.8 1373.6,981.1ZM1377.8,976.9 1389.5,983.5 1381,983.5 1369.3,976.9ZM1385.3,979.2 1397,987.6 1397,996.1 1385.3,987.8ZM1389.5,983.5 1401.2,991.9 1392.8,991.9 1381,983.5ZM1397,987.6 1407,981 1407,989.5 1397,996.1ZM1392.8,991.9 1402.8,985.2 1411.2,985.2 1401.2,991.9ZM1407,981 1423.8,979.2 1423.8,987.8 1407,989.5ZM1402.8,985.2 1419.5,983.5 1428,983.5 1411.2,985.2ZM1423.8,979.2 1433.8,984.4 1433.8,992.9 1423.8,987.8ZM1428,983.5 1438,988.6 1429.5,988.6 1419.5,983.5ZM1433.8,984.4 1440.5,979.2 1440.5,987.8 1433.8,992.9ZM1429.5,988.6 1436.2,983.5 1444.8,983.5 1438,988.6ZM1440.5,979.2 1453,972.6 1453,981.1 1440.5,987.8ZM1436.2,983.5 1448.8,976.9 1457.2,976.9 1444.8,983.5ZM1453,972.6 1462.2,982.6 1462.2,991.1 1453,981.1ZM1457.2,976.9 1466.5,986.9 1458,986.9 1448.8,976.9ZM1462.2,982.6 1470.6,989.4 1470.6,997.9 1462.2,991.1ZM1466.5,986.9 1474.8,993.6 1466.3,993.6 1458,986.9ZM1470.6,989.4 1482.3,996 1482.3,1004.5 1470.6,997.9ZM1474.8,993.6 1486.5,1000.3 1478,1000.3 1466.3,993.6ZM1482.3,996 1499,999.4 1499,1007.9 1482.3,1004.5ZM1486.5,1000.3 1503.2,1003.6 1494.8,1003.6 1478,1000.3ZM1499,999.4 1509,1006 1509,1014.5 1499,1007.9ZM1503.2,1003.6 1513.2,1010.3 1504.8,1010.3 1494.8,1003.6ZM1509,1006 1520.8,1009.4 1520.8,1017.9 1509,1014.5ZM1513.2,1010.3 1525,1013.6 1516.5,1013.6 1504.8,1010.3ZM1520.8,1009.4 1551,1009.4 1551,1017.9 1520.8,1017.9Z"/>
<path fill="#1a0080" stroke="none" d="M172.2,786.4 180.9,711.8 180.9,720.2 172.2,794.9ZM167.9,790.6 176.7,716 185.2,716 176.4,790.6ZM180.9,711.8 190.8,637.2 190.8,645.8 180.9,720.2ZM176.7,716 186.6,641.5 195.1,641.5 185.2,716ZM190.8,637.2 200.8,562.8 200.8,571.2 190.8,645.8ZM186.6,641.5 196.6,567 205.1,567 195.1,641.5ZM200.8,562.8 208.2,513 208.2,521.5 200.8,571.2ZM196.6,567 203.9,517.3 212.4,517.3 205.1,567ZM208.2,513 215.7,475.8 215.7,484.2 208.2,521.5ZM203.9,517.3 211.4,480 219.9,480 212.4,517.3ZM215.7,475.8 221,450.8 221,459.2 215.7,484.2ZM211.4,480 216.8,455 225.2,455 219.9,480ZM221,450.8 228,418.8 228,427.2 221,459.2ZM216.8,455 223.8,423 232.2,423 225.2,455ZM228,418.8 235.9,387.6 235.9,396.1 228,427.2ZM223.8,423 231.7,391.8 240.2,391.8 232.2,423ZM235.9,387.6 243,357.8 243,366.2 235.9,396.1ZM231.7,391.8 238.8,362 247.2,362 240.2,391.8ZM243,357.8 250.8,331.6 250.8,340.1 243,366.2ZM238.8,362 246.6,335.9 255.1,335.9 247.2,362ZM250.8,331.6 260.1,307.4 260.1,315.9 250.8,340.1ZM246.6,335.9 255.9,311.7 264.4,311.7 255.1,335.9ZM260.1,307.4 268,297.8 268,306.2 260.1,315.9ZM255.9,311.7 263.8,302 272.2,302 264.4,311.7ZM268,297.8 278.8,290.8 278.8,299.2 268,306.2ZM263.8,302 274.6,295 283.1,295 272.2,302ZM278.8,290.8 293.2,271.4 293.2,279.9 278.8,299.2ZM274.6,295 288.9,275.7 297.4,275.7 283.1,295ZM293.2,271.4 316.5,255.1 316.5,263.6 293.2,279.9ZM288.9,275.7 312.2,259.4 320.8,259.4 297.4,275.7ZM316.5,255.1 333.9,250.4 333.9,258.9 316.5,263.6ZM312.2,259.4 329.6,254.7 338.1,254.7 320.8,259.4ZM333.9,250.4 350,249.3 350,257.9 333.9,258.9ZM329.6,254.7 345.8,253.6 354.2,253.6 338.1,254.7ZM350,249.3 365,240.8 365,249.2 350,257.9ZM345.8,253.6 360.8,245 369.2,245 354.2,253.6ZM365,240.8 380,230.8 380,239.2 365,249.2ZM360.8,245 375.8,235 384.2,235 369.2,245ZM380,230.8 395,217.8 395,226.2 380,239.2ZM375.8,235 390.8,222 399.2,222 384.2,235ZM395,217.8 411.5,193.8 411.5,202.2 395,226.2ZM390.8,222 407.2,198 415.8,198 399.2,222ZM411.5,193.8 430,177.8 430,186.2 411.5,202.2ZM407.2,198 425.8,182 434.2,182 415.8,198ZM430,177.8 447.8,162.8 447.8,171.2 430,186.2ZM425.8,182 443.6,167 452.1,167 434.2,182ZM447.8,162.8 455,145.8 455,154.2 447.8,171.2ZM443.6,167 450.8,150 459.2,150 452.1,167ZM455,145.8 460,120.8 460,129.2 455,154.2ZM450.8,150 455.8,125 464.2,125 459.2,150ZM460,120.8 475.7,111.8 475.7,120.2 460,129.2ZM455.8,125 471.4,116 479.9,116 464.2,125ZM475.7,111.8 492.8,102.3 492.8,110.8 475.7,120.2ZM471.4,116 488.6,106.6 497.1,106.6 479.9,116ZM492.8,102.3 502,89.8 502,98.2 492.8,110.8ZM488.6,106.6 497.8,94 506.2,94 497.1,106.6ZM502,89.8 505,94.5 505,103 502,98.2ZM506.2,94 509.2,98.8 500.8,98.8 497.8,94ZM505,94.5 514.5,106.8 514.5,115.2 505,103ZM509.2,98.8 518.8,111 510.2,111 500.8,98.8ZM514.5,106.8 522.3,120.8 522.3,129.2 514.5,115.2ZM518.8,111 526.5,125 518,125 510.2,111ZM522.3,120.8 530,130.2 530,138.8 522.3,129.2ZM526.5,125 534.2,134.5 525.8,134.5 518,125ZM530,130.2 536,142.8 536,151.2 530,138.8ZM534.2,134.5 540.2,147 531.8,147 525.8,134.5ZM536,142.8 541,165.8 541,174.2 536,151.2ZM540.2,147 545.2,170 536.8,170 531.8,147ZM541,165.8 547,194.8 547,203.2 541,174.2ZM545.2,170 551.2,199 542.8,199 536.8,170ZM547,194.8 552,218.8 552,227.2 547,203.2ZM551.2,199 556.2,223 547.8,223 542.8,199ZM552,218.8 556,243.8 556,252.2 552,227.2ZM556.2,223 560.2,248 551.8,248 547.8,223ZM556,243.8 565,325.8 565,334.2 556,252.2ZM560.2,248 569.2,330 560.8,330 551.8,248ZM565,325.8 577,435.8 577,444.2 565,334.2ZM569.2,330 581.2,440 572.8,440 560.8,330ZM577,435.8 590,535.8 590,544.2 577,444.2ZM581.2,440 594.2,540 585.8,540 572.8,440ZM590,535.8 602,617.8 602,626.2 590,544.2ZM594.2,540 606.2,622 597.8,622 585.8,540ZM602,617.8 610,660.8 610,669.2 602,626.2ZM606.2,622 614.2,665 605.8,665 597.8,622ZM610,660.8 617.5,693.4 617.5,701.9 610,669.2ZM614.2,665 621.8,697.6 613.2,697.6 605.8,665ZM617.5,693.4 629.3,735.8 629.3,744.2 617.5,701.9ZM621.8,697.6 633.5,740 625,740 613.2,697.6ZM629.3,735.8 638.6,763.6 638.6,772.1 629.3,744.2ZM633.5,740 642.9,767.9 634.4,767.9 625,740ZM638.6,763.6 647.9,782.4 647.9,790.9 638.6,772.1ZM642.9,767.9 652.1,786.6 643.6,786.6 634.4,767.9ZM647.9,782.4 659.1,796.2 659.1,804.8 647.9,790.9ZM652.1,786.6 663.4,800.5 654.9,800.5 643.6,786.6ZM659.1,796.2 671.2,808.4 671.2,816.9 659.1,804.8ZM663.4,800.5 675.5,812.6 667,812.6 654.9,800.5ZM671.2,808.4 685.2,817.6 685.2,826.1 671.2,816.9ZM675.5,812.6 689.5,821.9 681,821.9 667,812.6ZM685.2,817.6 700,827 700,835.5 685.2,826.1ZM689.5,821.9 704.2,831.2 695.8,831.2 681,821.9ZM700,827 711.2,834 711.2,842.5 700,835.5ZM704.2,831.2 715.5,838.3 707,838.3 695.8,831.2ZM711.2,834 729.3,844.1 729.3,852.6 711.2,842.5ZM715.5,838.3 733.5,848.4 725,848.4 707,838.3ZM729.3,844.1 745.5,856.2 745.5,864.8 729.3,852.6ZM733.5,848.4 749.8,860.5 741.2,860.5 725,848.4ZM745.5,856.2 761.6,864.4 761.6,872.9 745.5,864.8ZM749.8,860.5 765.9,868.6 757.4,868.6 741.2,860.5ZM761.6,864.4 781.7,880 781.7,888.5 761.6,872.9ZM765.9,868.6 786,884.3 777.5,884.3 757.4,868.6ZM781.7,880 814.3,901.8 814.3,910.2 781.7,888.5ZM786,884.3 818.5,906 810,906 777.5,884.3ZM814.3,901.8 847,919.2 847,927.8 814.3,910.2ZM818.5,906 851.2,923.5 842.8,923.5 810,906ZM847,919.2 879.6,934.5 879.6,943 847,927.8ZM851.2,923.5 883.9,938.7 875.4,938.7 842.8,923.5ZM879.6,934.5 912.2,943.1 912.2,951.6 879.6,943ZM883.9,938.7 916.5,947.4 908,947.4 875.4,938.7ZM912.2,943.1 955.6,949.8 955.6,958.2 912.2,951.6ZM916.5,947.4 959.9,954 951.4,954 908,947.4ZM955.6,949.8 977.4,956.1 977.4,964.6 955.6,958.2ZM959.9,954 981.6,960.4 973.1,960.4 951.4,954ZM977.4,956.1 999,962.8 999,971.2 977.4,964.6ZM981.6,960.4 1003.2,967 994.8,967 973.1,960.4ZM999,962.8 1020.9,973.5 1020.9,982 999,971.2ZM1003.2,967 1025.2,977.8 1016.6,977.8 994.8,967ZM1020.9,973.5 1040,976.8 1040,985.2 1020.9,982ZM1025.2,977.8 1044.2,981 1035.8,981 1016.6,977.8ZM1040,976.8 1059.3,979.5 1059.3,988 1040,985.2ZM1044.2,981 1063.5,983.7 1055,983.7 1035.8,981ZM1059.3,979.5 1080,985.8 1080,994.2 1059.3,988ZM1063.5,983.7 1084.2,990 1075.8,990 1055,983.7ZM1080,985.8 1100,993.8 1100,1002.2 1080,994.2ZM1084.2,990 1104.2,998 1095.8,998 1075.8,990ZM1100,993.8 1120,1003.8 1120,1012.2 1100,1002.2ZM1104.2,998 1124.2,1008 1115.8,1008 1095.8,998ZM1120,1003.8 1140,1007.8 1140,1016.2 1120,1012.2ZM1124.2,1008 1144.2,1012 1135.8,1012 1115.8,1008ZM1140,1007.8 1160,1008.8 1160,1017.2 1140,1016.2ZM1144.2,1012 1164.2,1013 1155.8,1013 1135.8,1012ZM1160,1008.8 1200,1007.8 1200,1016.2 1160,1017.2ZM1155.8,1013 1195.8,1012 1204.2,1012 1164.2,1013ZM1200,1007.8 1250,1015.8 1250,1024.2 1200,1016.2ZM1204.2,1012 1254.2,1020 1245.8,1020 1195.8,1012ZM1250,1015.8 1300,1017.8 1300,1026.2 1250,1024.2ZM1254.2,1020 1304.2,1022 1295.8,1022 1245.8,1020ZM1300,1017.8 1335,1024.5 1335,1033 1300,1026.2ZM1304.2,1022 1339.2,1028.7 1330.8,1028.7 1295.8,1022ZM1335,1024.5 1380,1025.8 1380,1034.2 1335,1033ZM1339.2,1028.7 1384.2,1030 1375.8,1030 1330.8,1028.7ZM1380,1025.8 1430,1027.8 1430,1036.2 1380,1034.2ZM1384.2,1030 1434.2,1032 1425.8,1032 1375.8,1030ZM1430,1027.8 1474,1032.8 1474,1041.2 1430,1036.2ZM1434.2,1032 1478.2,1037 1469.8,1037 1425.8,1032ZM1474,1032.8 1490.7,1036.2 1490.7,1044.7 1474,1041.2ZM1478.2,1037 1495,1040.4 1486.5,1040.4 1469.8,1037ZM1490.7,1036.2 1507.4,1047.8 1507.4,1056.2 1490.7,1044.7ZM1495,1040.4 1511.7,1052 1503.2,1052 1486.5,1040.4ZM1507.4,1047.8 1515.8,1052.8 1515.8,1061.2 1507.4,1056.2ZM1511.7,1052 1520,1057 1511.5,1057 1503.2,1052ZM1515.8,1052.8 1524,1047.8 1524,1056.2 1515.8,1061.2ZM1511.5,1057 1519.8,1052 1528.2,1052 1520,1057ZM1524,1047.8 1551,1035.8 1551,1044.2 1524,1056.2ZM1519.8,1052 1546.8,1040 1555.2,1040 1528.2,1052Z"/>
<path fill="#000000" stroke="none" d="M172.5,700.8 181,651.8 181,660.2 172.5,709.2ZM168.2,705 176.8,656 185.2,656 176.8,705ZM181,651.8 191,589.8 191,598.2 181,660.2ZM176.8,656 186.8,594 195.2,594 185.2,656ZM191,589.8 198.5,541.8 198.5,550.2 191,598.2ZM186.8,594 194.2,546 202.8,546 195.2,594ZM198.5,541.8 204,525.8 204,534.2 198.5,550.2ZM194.2,546 199.8,530 208.2,530 202.8,546ZM204,525.8 207.5,515.8 207.5,524.2 204,534.2ZM199.8,530 203.2,520 211.8,520 208.2,530ZM207.5,515.8 209.5,500.8 209.5,509.2 207.5,524.2ZM203.2,520 205.2,505 213.8,505 211.8,520ZM209.5,500.8 213.2,475.8 213.2,484.2 209.5,509.2ZM205.2,505 208.9,480 217.4,480 213.8,505ZM213.2,475.8 217.4,453.8 217.4,462.2 213.2,484.2ZM208.9,480 213.2,458 221.7,458 217.4,480ZM217.4,453.8 222,430.8 222,439.2 217.4,462.2ZM213.2,458 217.8,435 226.2,435 221.7,458ZM222,430.8 227,405.8 227,414.2 222,439.2ZM217.8,435 222.8,410 231.2,410 226.2,435ZM227,405.8 232,387.6 232,396.1 227,414.2ZM222.8,410 227.8,391.8 236.2,391.8 231.2,410ZM232,387.6 237,365.8 237,374.2 232,396.1ZM227.8,391.8 232.8,370 241.2,370 236.2,391.8ZM237,365.8 241.5,345.8 241.5,354.2 237,374.2ZM232.8,370 237.2,350 245.8,350 241.2,370ZM241.5,345.8 247,331.8 247,340.2 241.5,354.2ZM237.2,350 242.8,336 251.2,336 245.8,350ZM247,331.8 251,317.8 251,326.2 247,340.2ZM242.8,336 246.8,322 255.2,322 251.2,336ZM251,317.8 255.9,306.4 255.9,314.9 251,326.2ZM246.8,322 251.7,310.6 260.1,310.6 255.2,322ZM255.9,306.4 262,297.8 262,306.2 255.9,314.9ZM251.7,310.6 257.8,302 266.2,302 260.1,310.6ZM262,297.8 268,293.8 268,302.2 262,306.2ZM257.8,302 263.8,298 272.2,298 266.2,302ZM268,293.8 278,282.8 278,291.2 268,302.2ZM263.8,298 273.8,287 282.2,287 272.2,298ZM278,282.8 290,271.8 290,280.2 278,291.2ZM273.8,287 285.8,276 294.2,276 282.2,287ZM290,271.8 300,263.8 300,272.2 290,280.2ZM285.8,276 295.8,268 304.2,268 294.2,276ZM300,263.8 316,261.8 316,270.2 300,272.2ZM295.8,268 311.8,266 320.2,266 304.2,268ZM316,261.8 330,263.8 330,272.2 316,270.2ZM320.2,266 334.2,268 325.8,268 311.8,266ZM330,263.8 342,267.8 342,276.2 330,272.2ZM334.2,268 346.2,272 337.8,272 325.8,268ZM342,267.8 350,265.8 350,274.2 342,276.2ZM337.8,272 345.8,270 354.2,270 346.2,272ZM350,265.8 365,255.8 365,264.2 350,274.2ZM345.8,270 360.8,260 369.2,260 354.2,270ZM365,255.8 382.4,243.2 382.4,251.7 365,264.2ZM360.8,260 378.1,247.4 386.6,247.4 369.2,260ZM382.4,243.2 399.9,222.2 399.9,230.8 382.4,251.7ZM378.1,247.4 395.6,226.5 404.1,226.5 386.6,247.4ZM399.9,222.2 411.5,211.8 411.5,220.2 399.9,230.8ZM395.6,226.5 407.2,216 415.8,216 404.1,226.5ZM411.5,211.8 423.2,200.1 423.2,208.6 411.5,220.2ZM407.2,216 418.9,204.3 427.4,204.3 415.8,216ZM423.2,200.1 434.8,187.2 434.8,195.8 423.2,208.6ZM418.9,204.3 430.6,191.5 439.1,191.5 427.4,204.3ZM434.8,187.2 441.8,177.9 441.8,186.4 434.8,195.8ZM430.6,191.5 437.6,182.2 446.1,182.2 439.1,191.5ZM441.8,177.9 449.3,179.9 449.3,188.4 441.8,186.4ZM446.1,182.2 453.6,184.2 445.1,184.2 437.6,182.2ZM449.3,179.9 457,173.8 457,182.2 449.3,188.4ZM445.1,184.2 452.8,178 461.2,178 453.6,184.2ZM457,173.8 468,167.6 468,176.1 457,182.2ZM452.8,178 463.8,171.8 472.2,171.8 461.2,178ZM468,167.6 477.3,161.3 477.3,169.8 468,176.1ZM463.8,171.8 473.1,165.6 481.6,165.6 472.2,171.8ZM477.3,161.3 483.5,148.8 483.5,157.2 477.3,169.8ZM473.1,165.6 479.2,153 487.8,153 481.6,165.6ZM483.5,148.8 491.2,155.2 491.2,163.7 483.5,157.2ZM487.8,153 495.4,159.4 486.9,159.4 479.2,153ZM491.2,155.2 499,162.8 499,171.2 491.2,163.7ZM495.4,159.4 503.2,167 494.8,167 486.9,159.4ZM499,162.8 506.8,152.1 506.8,160.6 499,171.2ZM494.8,167 502.6,156.3 511.1,156.3 503.2,167ZM506.8,152.1 517.6,148.8 517.6,157.2 506.8,160.6ZM502.6,156.3 513.4,153 521.9,153 511.1,156.3ZM517.6,148.8 523.9,155.2 523.9,163.7 517.6,157.2ZM521.9,153 528.1,159.4 519.6,159.4 513.4,153ZM523.9,155.2 528.5,179.9 528.5,188.4 523.9,163.7ZM528.1,159.4 532.8,184.2 524.2,184.2 519.6,159.4ZM528.5,179.9 533.2,203.2 533.2,211.8 528.5,188.4ZM532.8,184.2 537.5,207.5 529,207.5 524.2,184.2ZM533.2,203.2 537.8,226.6 537.8,235.1 533.2,211.8ZM537.5,207.5 542,230.8 533.5,230.8 529,207.5ZM537.8,226.6 542,245.8 542,254.2 537.8,235.1ZM542,230.8 546.2,250 537.8,250 533.5,230.8ZM542,245.8 556,340.8 556,349.2 542,254.2ZM546.2,250 560.2,345 551.8,345 537.8,250ZM556,340.8 570.3,435.8 570.3,444.2 556,349.2ZM560.2,345 574.5,440 566,440 551.8,345ZM570.3,435.8 582,525.8 582,534.2 570.3,444.2ZM574.5,440 586.2,530 577.8,530 566,440ZM582,525.8 594,615.8 594,624.2 582,534.2ZM586.2,530 598.2,620 589.8,620 577.8,530ZM594,615.8 602,662.4 602,670.9 594,624.2ZM598.2,620 606.2,666.6 597.8,666.6 589.8,620ZM602,662.4 609.7,702.8 609.7,711.2 602,670.9ZM606.2,666.6 614,707 605.5,707 597.8,666.6ZM609.7,702.8 622.8,735.8 622.8,744.2 609.7,711.2ZM614,707 627,740 618.5,740 605.5,707ZM622.8,735.8 627.4,763.6 627.4,772.1 622.8,744.2ZM627,740 631.6,767.9 623.1,767.9 618.5,740ZM627.4,763.6 634,787 634,795.5 627.4,772.1ZM631.6,767.9 638.2,791.2 629.8,791.2 623.1,767.9ZM634,787 643.3,805.5 643.3,814 634,795.5ZM638.2,791.2 647.5,809.8 639,809.8 629.8,791.2ZM643.3,805.5 652.6,819.5 652.6,828 643.3,814ZM647.5,809.8 656.9,823.8 648.4,823.8 639,809.8ZM652.6,819.5 661.9,830.8 661.9,839.2 652.6,828ZM656.9,823.8 666.1,835 657.6,835 648.4,823.8ZM661.9,830.8 674,841 674,849.5 661.9,839.2ZM666.1,835 678.2,845.2 669.8,845.2 657.6,835ZM674,841 687,851.2 687,859.8 674,849.5ZM678.2,845.2 691.2,855.5 682.8,855.5 669.8,845.2ZM687,851.2 697,862.8 697,871.2 687,859.8ZM691.2,855.5 701.2,867 692.8,867 682.8,855.5ZM697,862.8 711.2,874.5 711.2,883 697,871.2ZM701.2,867 715.5,878.7 707,878.7 692.8,867ZM711.2,874.5 725.3,878.5 725.3,887 711.2,883ZM715.5,878.7 729.5,882.7 721,882.7 707,878.7ZM725.3,878.5 739.4,888.5 739.4,897 725.3,887ZM729.5,882.7 743.6,892.8 735.1,892.8 721,882.7ZM739.4,888.5 755.6,889.5 755.6,898 739.4,897ZM743.6,892.8 759.9,893.8 751.4,893.8 735.1,892.8ZM755.6,889.5 760,891 760,899.5 755.6,898ZM759.9,893.8 764.2,895.2 755.8,895.2 751.4,893.8ZM760,891 781.7,908.4 781.7,916.9 760,899.5ZM764.2,895.2 786,912.6 777.5,912.6 755.8,895.2ZM781.7,908.4 803.5,921.5 803.5,930 781.7,916.9ZM786,912.6 807.8,925.7 799.2,925.7 777.5,912.6ZM803.5,921.5 818.7,932.2 818.7,940.8 803.5,930ZM807.8,925.7 823,936.5 814.5,936.5 799.2,925.7ZM818.7,932.2 847,938.8 847,947.2 818.7,940.8ZM823,936.5 851.2,943 842.8,943 814.5,936.5ZM847,938.8 879.6,951.8 879.6,960.2 847,947.2ZM851.2,943 883.9,956 875.4,956 842.8,943ZM879.6,951.8 912.2,960.5 912.2,969 879.6,960.2ZM883.9,956 916.5,964.8 908,964.8 875.4,956ZM912.2,960.5 951.3,967 951.3,975.5 912.2,969ZM916.5,964.8 955.5,971.3 947,971.3 908,964.8ZM951.3,967 966.5,973.5 966.5,982 951.3,975.5ZM955.5,971.3 970.8,977.8 962.2,977.8 947,971.3ZM966.5,973.5 994.8,980 994.8,988.5 966.5,982ZM970.8,977.8 999,984.3 990.5,984.3 962.2,977.8ZM994.8,980 1016.5,984.5 1016.5,993 994.8,988.5ZM999,984.3 1020.8,988.7 1012.2,988.7 990.5,984.3ZM1016.5,984.5 1038.3,991 1038.3,999.5 1016.5,993ZM1020.8,988.7 1042.5,995.2 1034,995.2 1012.2,988.7ZM1038.3,991 1056,994 1056,1002.5 1038.3,999.5ZM1042.5,995.2 1060.2,998.2 1051.8,998.2 1034,995.2ZM1056,994 1080.2,998.8 1080.2,1007.2 1056,1002.5ZM1060.2,998.2 1084.5,1003 1076,1003 1051.8,998.2ZM1080.2,998.8 1096.3,989.1 1096.3,997.6 1080.2,1007.2ZM1076,1003 1092,993.4 1100.5,993.4 1084.5,1003ZM1096.3,989.1 1115.7,989.1 1115.7,997.6 1096.3,997.6ZM1115.7,989.1 1128.5,995.5 1128.5,1004 1115.7,997.6ZM1120,993.4 1132.8,999.8 1124.2,999.8 1111.5,993.4ZM1128.5,995.5 1144.7,998.8 1144.7,1007.2 1128.5,1004ZM1132.8,999.8 1149,1003 1140.5,1003 1124.2,999.8ZM1144.7,998.8 1162.4,1006.8 1162.4,1015.2 1144.7,1007.2ZM1149,1003 1166.7,1011 1158.2,1011 1140.5,1003ZM1162.4,1006.8 1185,1002 1185,1010.5 1162.4,1015.2ZM1158.2,1011 1180.8,1006.3 1189.2,1006.3 1166.7,1011ZM1185,1002 1205.8,998.8 1205.8,1007.2 1185,1010.5ZM1180.8,1006.3 1201.5,1003 1210,1003 1189.2,1006.3ZM1205.8,998.8 1225,1002 1225,1010.5 1205.8,1007.2ZM1210,1003 1229.2,1006.3 1220.8,1006.3 1201.5,1003ZM1225,1002 1241.2,1008.5 1241.2,1017 1225,1010.5ZM1229.2,1006.3 1245.5,1012.7 1237,1012.7 1220.8,1006.3ZM1241.2,1008.5 1254,1003.8 1254,1012.2 1241.2,1017ZM1237,1012.7 1249.8,1008 1258.2,1008 1245.5,1012.7ZM1254,1003.8 1273.4,1005.8 1273.4,1014.2 1254,1012.2ZM1258.2,1008 1277.7,1010 1269.2,1010 1249.8,1008ZM1273.4,1005.8 1290,1002.8 1290,1011.2 1273.4,1014.2ZM1269.2,1010 1285.8,1007 1294.2,1007 1277.7,1010ZM1290,1002.8 1306.7,1004.4 1306.7,1012.9 1290,1011.2ZM1294.2,1007 1311,1008.6 1302.5,1008.6 1285.8,1007ZM1306.7,1004.4 1335,1022.8 1335,1031.2 1306.7,1012.9ZM1311,1008.6 1339.2,1027 1330.8,1027 1302.5,1008.6ZM1335,1022.8 1357,1024.5 1357,1033 1335,1031.2ZM1339.2,1027 1361.2,1028.7 1352.8,1028.7 1330.8,1027ZM1357,1024.5 1378.6,1029.5 1378.6,1038 1357,1033ZM1361.2,1028.7 1382.8,1033.7 1374.3,1033.7 1352.8,1028.7ZM1378.6,1029.5 1390.3,1024.5 1390.3,1033 1378.6,1038ZM1374.3,1033.7 1386,1028.7 1394.5,1028.7 1382.8,1033.7ZM1390.3,1024.5 1410.4,1017.8 1410.4,1026.2 1390.3,1033ZM1386,1028.7 1406.2,1022 1414.7,1022 1394.5,1028.7ZM1410.4,1017.8 1422,1014.5 1422,1023 1410.4,1026.2ZM1406.2,1022 1417.8,1018.7 1426.2,1018.7 1414.7,1022ZM1422,1014.5 1432,1006 1432,1014.5 1422,1023ZM1417.8,1018.7 1427.8,1010.3 1436.2,1010.3 1426.2,1018.7ZM1432,1006 1443.8,1011 1443.8,1019.5 1432,1014.5ZM1436.2,1010.3 1448,1015.3 1439.5,1015.3 1427.8,1010.3ZM1443.8,1011 1457.2,1012.8 1457.2,1021.2 1443.8,1019.5ZM1448,1015.3 1461.5,1017 1453,1017 1439.5,1015.3ZM1457.2,1012.8 1474,1017.8 1474,1026.2 1457.2,1021.2ZM1461.5,1017 1478.2,1022 1469.8,1022 1453,1017ZM1474,1017.8 1490.7,1021.2 1490.7,1029.7 1474,1026.2ZM1478.2,1022 1495,1025.4 1486.5,1025.4 1469.8,1022ZM1490.7,1021.2 1507.4,1027.8 1507.4,1036.2 1490.7,1029.7ZM1495,1025.4 1511.7,1032 1503.2,1032 1486.5,1025.4ZM1507.4,1027.8 1520.8,1031.2 1520.8,1039.7 1507.4,1036.2ZM1511.7,1032 1525,1035.4 1516.5,1035.4 1503.2,1032ZM1520.8,1031.2 1530,1025.8 1530,1034.2 1520.8,1039.7ZM1516.5,1035.4 1525.8,1030 1534.2,1030 1525,1035.4ZM1530,1025.8 1551,1025.8 1551,1034.2 1530,1034.2Z"/>
<path fill="#009eff" stroke="none" d="M172,531.8 178,538.8 178,547.2 172,540.2ZM176.2,536 182.2,543 173.8,543 167.8,536ZM178,538.8 183.4,542.8 183.4,551.2 178,547.2ZM182.2,543 187.7,547 179.2,547 173.8,543ZM183.4,542.8 193.3,540.4 193.3,548.9 183.4,551.2ZM179.2,547 189.1,544.6 197.6,544.6 187.7,547ZM193.3,540.4 200,541.8 200,550.2 193.3,548.9ZM197.6,544.6 204.2,546 195.8,546 189.1,544.6ZM200,541.8 204,530.8 204,539.2 200,550.2ZM195.8,546 199.8,535 208.2,535 204.2,546ZM204,530.8 207.5,515.8 207.5,524.2 204,539.2ZM199.8,535 203.2,520 211.8,520 208.2,535ZM207.5,515.8 209.5,500.8 209.5,509.2 207.5,524.2ZM203.2,520 205.2,505 213.8,505 211.8,520ZM209.5,500.8 213.2,475.8 213.2,484.2 209.5,509.2ZM205.2,505 208.9,480 217.4,480 213.8,505ZM213.2,475.8 217.4,453.8 217.4,462.2 213.2,484.2ZM208.9,480 213.2,458 221.7,458 217.4,480ZM217.4,453.8 222,430.8 222,439.2 217.4,462.2ZM213.2,458 217.8,435 226.2,435 221.7,458ZM222,430.8 227,405.8 227,414.2 222,439.2ZM217.8,435 222.8,410 231.2,410 226.2,435ZM227,405.8 232,387.6 232,396.1 227,414.2ZM222.8,410 227.8,391.8 236.2,391.8 231.2,410ZM232,387.6 237,365.8 237,374.2 232,396.1ZM227.8,391.8 232.8,370 241.2,370 236.2,391.8ZM237,365.8 241.5,345.8 241.5,354.2 237,374.2ZM232.8,370 237.2,350 245.8,350 241.2,370ZM241.5,345.8 247,331.8 247,340.2 241.5,354.2ZM237.2,350 242.8,336 251.2,336 245.8,350ZM247,331.8 251,317.8 251,326.2 247,340.2ZM242.8,336 246.8,322 255.2,322 251.2,336ZM251,317.8 255.9,306.4 255.9,314.9 251,326.2ZM246.8,322 251.7,310.6 260.1,310.6 255.2,322ZM255.9,306.4 265.2,291.2 265.2,299.8 255.9,314.9ZM251.7,310.6 260.9,295.5 269.4,295.5 260.1,310.6ZM265.2,291.2 275.7,281.9 275.7,290.4 265.2,299.8ZM260.9,295.5 271.4,286.2 279.9,286.2 269.4,295.5ZM275.7,281.9 288.5,267.9 288.5,276.4 275.7,290.4ZM271.4,286.2 284.2,272.2 292.8,272.2 279.9,286.2ZM288.5,267.9 299,263.2 299,271.8 288.5,276.4ZM284.2,272.2 294.8,267.5 303.2,267.5 292.8,272.2ZM299,263.2 316.5,260.9 316.5,269.4 299,271.8ZM294.8,267.5 312.2,265.2 320.8,265.2 303.2,267.5ZM316.5,260.9 328.1,263.2 328.1,271.8 316.5,269.4ZM320.8,265.2 332.4,267.5 323.9,267.5 312.2,265.2ZM328.1,263.2 339.7,260.9 339.7,269.4 328.1,271.8ZM323.9,267.5 335.4,265.2 343.9,265.2 332.4,267.5ZM339.7,260.9 350,259.8 350,268.2 339.7,269.4ZM335.4,265.2 345.8,264 354.2,264 343.9,265.2ZM350,259.8 353.3,251.3 353.3,259.9 350,268.2ZM345.8,264 349.1,255.6 357.6,255.6 354.2,264ZM353.3,251.3 376.6,233.8 376.6,242.3 353.3,259.9ZM349.1,255.6 372.4,238.1 380.9,238.1 357.6,255.6ZM376.6,233.8 388.2,224.6 388.2,233.1 376.6,242.3ZM372.4,238.1 383.9,228.8 392.4,228.8 380.9,238.1ZM388.2,224.6 399.9,212.8 399.9,221.3 388.2,233.1ZM383.9,228.8 395.6,217.1 404.1,217.1 392.4,228.8ZM399.9,212.8 411.5,197.8 411.5,206.2 399.9,221.3ZM395.6,217.1 407.2,202 415.8,202 404.1,217.1ZM411.5,197.8 423.2,182.7 423.2,191.2 411.5,206.2ZM407.2,202 418.9,186.9 427.4,186.9 415.8,202ZM423.2,182.7 434.8,166.3 434.8,174.8 423.2,191.2ZM418.9,186.9 430.6,170.6 439.1,170.6 427.4,186.9ZM434.8,166.3 446.5,150.1 446.5,158.6 434.8,174.8ZM430.6,170.6 442.2,154.3 450.8,154.3 439.1,170.6ZM446.5,150.1 455.8,138.3 455.8,146.8 446.5,158.6ZM442.2,154.3 451.6,142.6 460.1,142.6 450.8,154.3ZM455.8,138.3 463.3,136.4 463.3,144.9 455.8,146.8ZM451.6,142.6 459.1,140.7 467.6,140.7 460.1,142.6ZM463.3,136.4 475.7,139.7 475.7,148.2 463.3,144.9ZM467.6,140.7 479.9,143.9 471.4,143.9 459.1,140.7ZM475.7,139.7 491.2,136.4 491.2,144.9 475.7,148.2ZM471.4,143.9 486.9,140.7 495.4,140.7 479.9,143.9ZM491.2,136.4 505.2,139.7 505.2,148.2 491.2,144.9ZM495.4,140.7 509.4,143.9 500.9,143.9 486.9,140.7ZM505.2,139.7 520.7,134.8 520.7,143.2 505.2,148.2ZM500.9,143.9 516.5,139 525,139 509.4,143.9ZM520.7,134.8 530,139.7 530,148.2 520.7,143.2ZM525,139 534.2,143.9 525.8,143.9 516.5,139ZM530,139.7 536.3,151.8 536.3,160.2 530,148.2ZM534.2,143.9 540.5,156 532,156 525.8,143.9ZM536.3,151.8 541,172.2 541,180.8 536.3,160.2ZM540.5,156 545.2,176.5 536.8,176.5 532,156ZM541,172.2 547.1,195.6 547.1,204.1 541,180.8ZM545.2,176.5 551.4,199.8 542.9,199.8 536.8,176.5ZM547.1,195.6 551.8,218.8 551.8,227.2 547.1,204.1ZM551.4,199.8 556,223 547.5,223 542.9,199.8ZM551.8,218.8 556.5,243.8 556.5,252.2 551.8,227.2ZM556,223 560.8,248 552.2,248 547.5,223ZM556.5,243.8 565,325.8 565,334.2 556.5,252.2ZM560.8,248 569.2,330 560.8,330 552.2,248ZM565,325.8 578,435.8 578,444.2 565,334.2ZM569.2,330 582.2,440 573.8,440 560.8,330ZM578,435.8 591,535.8 591,544.2 578,444.2ZM582.2,440 595.2,540 586.8,540 573.8,440ZM591,535.8 603.5,617.8 603.5,626.2 591,544.2ZM595.2,540 607.8,622 599.2,622 586.8,540ZM603.5,617.8 611.2,662.4 611.2,670.9 603.5,626.2ZM607.8,622 615.5,666.6 607,666.6 599.2,622ZM611.2,662.4 622,693.4 622,701.9 611.2,670.9ZM615.5,666.6 626.2,697.6 617.8,697.6 607,666.6ZM622,693.4 633,732.2 633,740.8 622,701.9ZM626.2,697.6 637.2,736.5 628.8,736.5 617.8,697.6ZM633,732.2 647,763.2 647,771.8 633,740.8ZM637.2,736.5 651.2,767.5 642.8,767.5 628.8,736.5ZM647,763.2 662.5,786.5 662.5,795 647,771.8ZM651.2,767.5 666.8,790.8 658.2,790.8 642.8,767.5ZM662.5,786.5 681,802 681,810.5 662.5,795ZM666.8,790.8 685.2,806.3 676.8,806.3 658.2,790.8ZM681,802 696.6,814.5 696.6,823 681,810.5ZM685.2,806.3 700.9,818.8 692.4,818.8 676.8,806.3ZM696.6,814.5 711.2,826 711.2,834.5 696.6,823ZM700.9,818.8 715.5,830.3 707,830.3 692.4,818.8ZM711.2,826 733.4,844.1 733.4,852.6 711.2,834.5ZM715.5,830.3 737.6,848.4 729.1,848.4 707,830.3ZM733.4,844.1 747.5,860.4 747.5,868.9 733.4,852.6ZM737.6,848.4 751.8,864.6 743.2,864.6 729.1,848.4ZM747.5,860.4 765.7,872.5 765.7,881 747.5,868.9ZM751.8,864.6 770,876.7 761.5,876.7 743.2,864.6ZM765.7,872.5 781.7,888.8 781.7,897.2 765.7,881ZM770,876.7 786,893 777.5,893 761.5,876.7ZM781.7,888.8 814.3,908.4 814.3,916.9 781.7,897.2ZM786,893 818.5,912.6 810,912.6 777.5,893ZM814.3,908.4 847,925.8 847,934.2 814.3,916.9ZM818.5,912.6 851.2,930 842.8,930 810,912.6ZM847,925.8 879.6,943.1 879.6,951.6 847,934.2ZM851.2,930 883.9,947.4 875.4,947.4 842.8,930ZM879.6,943.1 912.2,951.8 912.2,960.2 879.6,951.6ZM883.9,947.4 916.5,956 908,956 875.4,947.4ZM912.2,951.8 955.6,958.4 955.6,966.9 912.2,960.2ZM916.5,956 959.9,962.6 951.4,962.6 908,956ZM955.6,958.4 988.3,964.8 988.3,973.2 955.6,966.9ZM959.9,962.6 992.5,969 984,969 951.4,962.6ZM988.3,964.8 1010,971.5 1010,980 988.3,973.2ZM992.5,969 1014.2,975.7 1005.8,975.7 984,969ZM1010,971.5 1020.9,977.8 1020.9,986.2 1010,980ZM1014.2,975.7 1025.2,982 1016.6,982 1005.8,975.7ZM1020.9,977.8 1042.6,982.2 1042.6,990.8 1020.9,986.2ZM1025.2,982 1046.8,986.5 1038.3,986.5 1016.6,982ZM1042.6,982.2 1064,984.2 1064,992.8 1042.6,990.8ZM1046.8,986.5 1068.2,988.5 1059.8,988.5 1038.3,986.5ZM1064,984.2 1088.3,994 1088.3,1002.5 1064,992.8ZM1068.2,988.5 1092.5,998.2 1084,998.2 1059.8,988.5ZM1088.3,994 1107.6,995.5 1107.6,1004 1088.3,1002.5ZM1092.5,998.2 1111.8,999.8 1103.3,999.8 1084,998.2ZM1107.6,995.5 1120.5,1005.2 1120.5,1013.8 1107.6,1004ZM1111.8,999.8 1124.8,1009.5 1116.2,1009.5 1103.3,999.8ZM1120.5,1005.2 1136.6,1008.5 1136.6,1017 1120.5,1013.8ZM1124.8,1009.5 1140.8,1012.7 1132.3,1012.7 1116.2,1009.5ZM1136.6,1008.5 1152.7,1010 1152.7,1018.5 1136.6,1017ZM1140.8,1012.7 1157,1014.3 1148.5,1014.3 1132.3,1012.7ZM1152.7,1010 1165.6,1020.8 1165.6,1029.2 1152.7,1018.5ZM1157,1014.3 1169.8,1025 1161.3,1025 1148.5,1014.3ZM1165.6,1020.8 1180,1005.2 1180,1013.8 1165.6,1029.2ZM1161.3,1025 1175.8,1009.5 1184.2,1009.5 1169.8,1025ZM1180,1005.2 1201,1008.5 1201,1017 1180,1013.8ZM1184.2,1009.5 1205.2,1012.7 1196.8,1012.7 1175.8,1009.5ZM1201,1008.5 1217,1005.2 1217,1013.8 1201,1017ZM1196.8,1012.7 1212.8,1009.5 1221.2,1009.5 1205.2,1012.7ZM1217,1005.2 1233,1011.8 1233,1020.2 1217,1013.8ZM1221.2,1009.5 1237.2,1016 1228.8,1016 1212.8,1009.5ZM1233,1011.8 1249.3,1016.5 1249.3,1025 1233,1020.2ZM1237.2,1016 1253.5,1020.8 1245,1020.8 1228.8,1016ZM1249.3,1016.5 1268.6,1018.1 1268.6,1026.7 1249.3,1025ZM1253.5,1020.8 1272.8,1022.4 1264.3,1022.4 1245,1020.8ZM1268.6,1018.1 1284.7,1014.8 1284.7,1023.2 1268.6,1026.7ZM1264.3,1022.4 1280.5,1019 1289,1019 1272.8,1022.4ZM1284.7,1014.8 1290,1014.5 1290,1023 1284.7,1023.2ZM1280.5,1019 1285.8,1018.7 1294.2,1018.7 1289,1019ZM1290,1014.5 1306.7,1017.8 1306.7,1026.2 1290,1023ZM1294.2,1018.7 1311,1022 1302.5,1022 1285.8,1018.7ZM1306.7,1017.8 1323.4,1017.8 1323.4,1026.2 1306.7,1026.2ZM1323.4,1017.8 1340,1022.8 1340,1031.2 1323.4,1026.2ZM1327.7,1022 1344.2,1027 1335.8,1027 1319.2,1022ZM1340,1022.8 1356.9,1021.2 1356.9,1029.7 1340,1031.2ZM1335.8,1027 1352.7,1025.4 1361.2,1025.4 1344.2,1027ZM1356.9,1021.2 1373.6,1017.8 1373.6,1026.2 1356.9,1029.7ZM1352.7,1025.4 1369.3,1022 1377.8,1022 1361.2,1025.4ZM1373.6,1017.8 1390.3,1021.2 1390.3,1029.7 1373.6,1026.2ZM1377.8,1022 1394.5,1025.4 1386,1025.4 1369.3,1022ZM1390.3,1021.2 1412,1031.2 1412,1039.7 1390.3,1029.7ZM1394.5,1025.4 1416.2,1035.4 1407.8,1035.4 1386,1025.4ZM1412,1031.2 1432,1026.2 1432,1034.7 1412,1039.7ZM1407.8,1035.4 1427.8,1030.4 1436.2,1030.4 1416.2,1035.4ZM1432,1026.2 1443.8,1031.2 1443.8,1039.7 1432,1034.7ZM1436.2,1030.4 1448,1035.4 1439.5,1035.4 1427.8,1030.4ZM1443.8,1031.2 1460.6,1031.2 1460.6,1039.7 1443.8,1039.7ZM1460.6,1031.2 1474,1024.5 1474,1033 1460.6,1039.7ZM1456.3,1035.4 1469.8,1028.7 1478.2,1028.7 1464.8,1035.4ZM1474,1024.5 1490.7,1027.8 1490.7,1036.2 1474,1033ZM1478.2,1028.7 1495,1032 1486.5,1032 1469.8,1028.7ZM1490.7,1027.8 1507.4,1032.8 1507.4,1041.2 1490.7,1036.2ZM1495,1032 1511.7,1037 1503.2,1037 1486.5,1032ZM1507.4,1032.8 1524,1034.5 1524,1043 1507.4,1041.2ZM1511.7,1037 1528.2,1038.7 1519.8,1038.7 1503.2,1037ZM1524,1034.5 1551,1034.5 1551,1043 1524,1043Z"/>
<path fill="#ff00ff" stroke="none" d="M172.2,699.4 180.9,649.8 180.9,658.2 172.2,707.9ZM167.9,703.6 176.7,654 185.2,654 176.4,703.6ZM180.9,649.8 190.8,587.5 190.8,596 180.9,658.2ZM176.7,654 186.6,591.8 195.1,591.8 185.2,654ZM190.8,587.5 198.3,537.8 198.3,546.2 190.8,596ZM186.6,591.8 194.1,542 202.6,542 195.1,591.8ZM198.3,537.8 200.5,515.8 200.5,524.2 198.3,546.2ZM194.1,542 196.2,520 204.8,520 202.6,542ZM200.5,515.8 204,488.8 204,497.2 200.5,524.2ZM196.2,520 199.8,493 208.2,493 204.8,520ZM204,488.8 208,462.1 208,470.6 204,497.2ZM199.8,493 203.8,466.3 212.2,466.3 208.2,493ZM208,462.1 212.5,433.8 212.5,442.2 208,470.6ZM203.8,466.3 208.2,438 216.8,438 212.2,466.3ZM212.5,433.8 217.3,406.1 217.3,414.6 212.5,442.2ZM208.2,438 213.1,410.4 221.6,410.4 216.8,438ZM217.3,406.1 222,381.8 222,390.2 217.3,414.6ZM213.1,410.4 217.8,386 226.2,386 221.6,410.4ZM222,381.8 226.6,359.6 226.6,368.1 222,390.2ZM217.8,386 222.3,363.8 230.8,363.8 226.2,386ZM226.6,359.6 231,339.8 231,348.2 226.6,368.1ZM222.3,363.8 226.8,344 235.2,344 230.8,363.8ZM231,339.8 235.9,322.4 235.9,330.9 231,348.2ZM226.8,344 231.7,326.6 240.2,326.6 235.2,344ZM235.9,322.4 241.5,303.8 241.5,312.2 235.9,330.9ZM231.7,326.6 237.2,308 245.8,308 240.2,326.6ZM241.5,303.8 246,294.8 246,303.2 241.5,312.2ZM237.2,308 241.8,299 250.2,299 245.8,308ZM246,294.8 250.8,286.8 250.8,295.2 246,303.2ZM241.8,299 246.6,291 255.1,291 250.2,299ZM250.8,286.8 256,276.8 256,285.2 250.8,295.2ZM246.6,291 251.8,281 260.2,281 255.1,291ZM256,276.8 261,265.8 261,274.2 256,285.2ZM251.8,281 256.8,270 265.2,270 260.2,281ZM261,265.8 267.5,253.9 267.5,262.4 261,274.2ZM256.8,270 263.2,258.2 271.8,258.2 265.2,270ZM267.5,253.9 276.9,244.7 276.9,253.2 267.5,262.4ZM263.2,258.2 272.6,248.9 281.1,248.9 271.8,258.2ZM276.9,244.7 288.5,230.7 288.5,239.2 276.9,253.2ZM272.6,248.9 284.2,234.9 292.8,234.9 281.1,248.9ZM288.5,230.7 304.8,223.8 304.8,232.2 288.5,239.2ZM284.2,234.9 300.6,228 309.1,228 292.8,234.9ZM304.8,223.8 322.3,222.6 322.3,231.1 304.8,232.2ZM300.6,228 318.1,226.8 326.6,226.8 309.1,228ZM322.3,222.6 330.4,215.6 330.4,224.1 322.3,231.1ZM318.1,226.8 326.1,219.8 334.6,219.8 326.6,226.8ZM330.4,215.6 335,213.2 335,221.8 330.4,224.1ZM326.1,219.8 330.8,217.5 339.2,217.5 334.6,219.8ZM335,213.2 343.2,219.1 343.2,227.6 335,221.8ZM339.2,217.5 347.4,223.3 338.9,223.3 330.8,217.5ZM343.2,219.1 350,223.8 350,232.2 343.2,227.6ZM347.4,223.3 354.2,228 345.8,228 338.9,223.3ZM350,223.8 359.1,217.6 359.1,226.1 350,232.2ZM345.8,228 354.9,221.8 363.4,221.8 354.2,228ZM359.1,217.6 370.8,208.2 370.8,216.8 359.1,226.1ZM354.9,221.8 366.6,212.5 375.1,212.5 363.4,221.8ZM370.8,208.2 385.9,201.2 385.9,209.8 370.8,216.8ZM366.6,212.5 381.6,205.5 390.1,205.5 375.1,212.5ZM385.9,201.2 395.2,194.2 395.2,202.8 385.9,209.8ZM381.6,205.5 390.9,198.5 399.4,198.5 390.1,205.5ZM395.2,194.2 405.7,181.4 405.7,189.9 395.2,202.8ZM390.9,198.5 401.4,185.7 409.9,185.7 399.4,198.5ZM405.7,181.4 417.3,168.7 417.3,177.2 405.7,189.9ZM401.4,185.7 413.1,172.9 421.6,172.9 409.9,185.7ZM417.3,168.7 429,155.8 429,164.2 417.3,177.2ZM413.1,172.9 424.8,160 433.2,160 421.6,172.9ZM429,155.8 440.6,141.8 440.6,150.3 429,164.2ZM424.8,160 436.4,146.1 444.9,146.1 433.2,160ZM440.6,141.8 452.3,129.1 452.3,137.6 440.6,150.3ZM436.4,146.1 448.1,133.3 456.6,133.3 444.9,146.1ZM452.3,129.1 460.2,119.5 460.2,128 452.3,137.6ZM448.1,133.3 455.9,123.7 464.4,123.7 456.6,133.3ZM460.2,119.5 471,121 471,129.4 460.2,128ZM464.4,123.7 475.2,125.2 466.8,125.2 455.9,123.7ZM471,121 480.4,130.2 480.4,138.8 471,129.4ZM475.2,125.2 484.6,134.5 476.1,134.5 466.8,125.2ZM480.4,130.2 491.2,139.7 491.2,148.2 480.4,138.8ZM484.6,134.5 495.4,143.9 486.9,143.9 476.1,134.5ZM491.2,139.7 499,134.9 499,143.4 491.2,148.2ZM486.9,143.9 494.8,139.2 503.2,139.2 495.4,143.9ZM499,134.9 505.2,148.8 505.2,157.2 499,143.4ZM503.2,139.2 509.4,153 500.9,153 494.8,139.2ZM505.2,148.8 513,162.8 513,171.2 505.2,157.2ZM509.4,153 517.2,167 508.8,167 500.9,153ZM513,162.8 517.6,179.9 517.6,188.4 513,171.2ZM517.2,167 521.9,184.2 513.4,184.2 508.8,167ZM517.6,179.9 522.3,195.6 522.3,204.1 517.6,188.4ZM521.9,184.2 526.5,199.8 518,199.8 513.4,184.2ZM522.3,195.6 527,218.8 527,227.2 522.3,204.1ZM526.5,199.8 531.2,223 522.8,223 518,199.8ZM527,218.8 531.6,242.1 531.6,250.6 527,227.2ZM531.2,223 535.9,246.3 527.4,246.3 522.8,223ZM531.6,242.1 536,265.8 536,274.2 531.6,250.6ZM535.9,246.3 540.2,270 531.8,270 527.4,246.3ZM536,265.8 545,345.8 545,354.2 536,274.2ZM540.2,270 549.2,350 540.8,350 531.8,270ZM545,345.8 558.4,440.8 558.4,449.2 545,354.2ZM549.2,350 562.6,445 554.1,445 540.8,350ZM558.4,440.8 568,535.8 568,544.2 558.4,449.2ZM562.6,445 572.2,540 563.8,540 554.1,445ZM568,535.8 577.5,625.8 577.5,634.2 568,544.2ZM572.2,540 581.8,630 573.2,630 563.8,540ZM577.5,625.8 584.8,677.8 584.8,686.2 577.5,634.2ZM581.8,630 589,682 580.5,682 573.2,630ZM584.8,677.8 591,739.8 591,748.2 584.8,686.2ZM589,682 595.2,744 586.8,744 580.5,682ZM591,739.8 599.2,800.8 599.2,809.2 591,748.2ZM595.2,744 603.5,805 595,805 586.8,744ZM599.2,800.8 604.2,836.1 604.2,844.6 599.2,809.2ZM603.5,805 608.5,840.4 600,840.4 595,805ZM604.2,836.1 610.3,876.5 610.3,885 604.2,844.6ZM608.5,840.4 614.5,880.7 606,880.7 600,840.4ZM610.3,876.5 618.3,906.8 618.3,915.2 610.3,885ZM614.5,880.7 622.5,911 614,911 606,880.7ZM618.3,906.8 626.4,937 626.4,945.5 618.3,915.2ZM622.5,911 630.6,941.3 622.1,941.3 614,911ZM626.4,937 636.5,963.2 636.5,971.8 626.4,945.5ZM630.6,941.3 640.8,967.5 632.2,967.5 622.1,941.3ZM636.5,963.2 648.6,985.5 648.6,994 636.5,971.8ZM640.8,967.5 652.9,989.7 644.4,989.7 632.2,967.5ZM648.6,985.5 660.7,997.5 660.7,1006 648.6,994ZM652.9,989.7 665,1001.8 656.5,1001.8 644.4,989.7ZM660.7,997.5 672.8,1001.6 672.8,1010.1 660.7,1006ZM665,1001.8 677,1005.9 668.5,1005.9 656.5,1001.8ZM672.8,1001.6 689,1001.6 689,1010.1 672.8,1010.1ZM689,1001.6 709.2,1006.6 709.2,1015.1 689,1010.1ZM693.2,1005.9 713.5,1010.9 705,1010.9 684.8,1005.9ZM709.2,1006.6 723.3,1003.6 723.3,1012.1 709.2,1015.1ZM705,1010.9 719,1007.9 727.5,1007.9 713.5,1010.9ZM723.3,1003.6 741.5,1009.8 741.5,1018.2 723.3,1012.1ZM727.5,1007.9 745.8,1014 737.2,1014 719,1007.9ZM741.5,1009.8 757.6,1007.8 757.6,1016.2 741.5,1018.2ZM737.2,1014 753.4,1012 761.9,1012 745.8,1014ZM757.6,1007.8 768.7,1007.2 768.7,1015.8 757.6,1016.2ZM753.4,1012 764.5,1011.5 773,1011.5 761.9,1012ZM768.7,1007.2 781.7,1011.6 781.7,1020.1 768.7,1015.8ZM773,1011.5 786,1015.9 777.5,1015.9 764.5,1011.5ZM781.7,1011.6 814.3,1016 814.3,1024.5 781.7,1020.1ZM786,1015.9 818.5,1020.2 810,1020.2 777.5,1015.9ZM814.3,1016 847,1017 847,1025.5 814.3,1024.5ZM818.5,1020.2 851.2,1021.3 842.8,1021.3 810,1020.2ZM847,1017 879.6,1019.2 879.6,1027.8 847,1025.5ZM851.2,1021.3 883.9,1023.5 875.4,1023.5 842.8,1021.3ZM879.6,1019.2 901.3,1018.1 901.3,1026.7 879.6,1027.8ZM875.4,1023.5 897,1022.4 905.5,1022.4 883.9,1023.5ZM901.3,1018.1 944.8,1013.8 944.8,1022.2 901.3,1026.7ZM897,1022.4 940.5,1018 949,1018 905.5,1022.4ZM944.8,1013.8 955.6,1007.2 955.6,1015.8 944.8,1022.2ZM940.5,1018 951.4,1011.5 959.9,1011.5 949,1018ZM955.6,1007.2 966.5,1010.5 966.5,1019 955.6,1015.8ZM959.9,1011.5 970.8,1014.8 962.2,1014.8 951.4,1011.5ZM966.5,1010.5 999,1013.8 999,1022.2 966.5,1019ZM970.8,1014.8 1003.2,1018 994.8,1018 962.2,1014.8ZM999,1013.8 1014.3,1020.3 1014.3,1028.8 999,1022.2ZM1003.2,1018 1018.5,1024.6 1010,1024.6 994.8,1018ZM1014.3,1020.3 1031.7,1014.8 1031.7,1023.2 1014.3,1028.8ZM1010,1024.6 1027.5,1019 1036,1019 1018.5,1024.6ZM1031.7,1014.8 1040,1019.8 1040,1028.2 1031.7,1023.2ZM1036,1019 1044.2,1024 1035.8,1024 1027.5,1019ZM1040,1019.8 1064,1023 1064,1031.5 1040,1028.2ZM1044.2,1024 1068.2,1027.2 1059.8,1027.2 1035.8,1024ZM1064,1023 1080.2,1013.2 1080.2,1021.8 1064,1031.5ZM1059.8,1027.2 1076,1017.5 1084.5,1017.5 1068.2,1027.2ZM1080.2,1013.2 1101.2,1008.5 1101.2,1017 1080.2,1021.8ZM1076,1017.5 1097,1012.7 1105.5,1012.7 1084.5,1017.5ZM1101.2,1008.5 1120.5,1013.2 1120.5,1021.8 1101.2,1017ZM1105.5,1012.7 1124.8,1017.5 1116.2,1017.5 1097,1012.7ZM1120.5,1013.2 1141.4,1023 1141.4,1031.5 1120.5,1021.8ZM1124.8,1017.5 1145.7,1027.2 1137.2,1027.2 1116.2,1017.5ZM1141.4,1023 1156,1014.8 1156,1023.2 1141.4,1031.5ZM1137.2,1027.2 1151.8,1019 1160.2,1019 1145.7,1027.2ZM1156,1014.8 1176.8,1014.8 1176.8,1023.2 1156,1023.2ZM1176.8,1014.8 1201,1013.2 1201,1021.8 1176.8,1023.2ZM1172.5,1019 1196.8,1017.5 1205.2,1017.5 1181,1019ZM1201,1013.2 1213.9,1024.5 1213.9,1033 1201,1021.8ZM1205.2,1017.5 1218.2,1028.8 1209.7,1028.8 1196.8,1017.5ZM1213.9,1024.5 1233,1014.8 1233,1023.2 1213.9,1033ZM1209.7,1028.8 1228.8,1019 1237.2,1019 1218.2,1028.8ZM1233,1014.8 1249.3,1008.5 1249.3,1017 1233,1023.2ZM1228.8,1019 1245,1012.7 1253.5,1012.7 1237.2,1019ZM1249.3,1008.5 1273.4,1002 1273.4,1010.5 1249.3,1017ZM1245,1012.7 1269.2,1006.3 1277.7,1006.3 1253.5,1012.7ZM1273.4,1002 1290,1006 1290,1014.5 1273.4,1010.5ZM1277.7,1006.3 1294.2,1010.3 1285.8,1010.3 1269.2,1006.3ZM1290,1006 1306.7,1007.8 1306.7,1016.2 1290,1014.5ZM1294.2,1010.3 1311,1012 1302.5,1012 1285.8,1010.3ZM1306.7,1007.8 1323.4,1009.4 1323.4,1017.9 1306.7,1016.2ZM1311,1012 1327.7,1013.6 1319.2,1013.6 1302.5,1012ZM1323.4,1009.4 1340,1012.8 1340,1021.2 1323.4,1017.9ZM1327.7,1013.6 1344.2,1017 1335.8,1017 1319.2,1013.6ZM1340,1012.8 1356.9,1009.4 1356.9,1017.9 1340,1021.2ZM1335.8,1017 1352.7,1013.6 1361.2,1013.6 1344.2,1017ZM1356.9,1009.4 1368.6,1014.5 1368.6,1023 1356.9,1017.9ZM1361.2,1013.6 1372.8,1018.7 1364.3,1018.7 1352.7,1013.6ZM1368.6,1014.5 1377,1006 1377,1014.5 1368.6,1023ZM1364.3,1018.7 1372.8,1010.3 1381.2,1010.3 1372.8,1018.7ZM1377,1006 1390.3,1006 1390.3,1014.5 1377,1014.5ZM1390.3,1006 1407,1007.8 1407,1016.2 1390.3,1014.5ZM1394.5,1010.3 1411.2,1012 1402.8,1012 1386,1010.3ZM1407,1007.8 1423.8,1002.8 1423.8,1011.2 1407,1016.2ZM1402.8,1012 1419.5,1007 1428,1007 1411.2,1012ZM1423.8,1002.8 1432,1016 1432,1024.5 1423.8,1011.2ZM1428,1007 1436.2,1020.3 1427.8,1020.3 1419.5,1007ZM1432,1016 1445.5,1019.5 1445.5,1028 1432,1024.5ZM1436.2,1020.3 1449.8,1023.7 1441.2,1023.7 1427.8,1020.3ZM1445.5,1019.5 1457.2,1019.5 1457.2,1028 1445.5,1028ZM1457.2,1019.5 1467.3,1016 1467.3,1024.5 1457.2,1028ZM1453,1023.7 1463,1020.3 1471.5,1020.3 1461.5,1023.7ZM1467.3,1016 1475.6,1021.2 1475.6,1029.7 1467.3,1024.5ZM1471.5,1020.3 1479.8,1025.4 1471.3,1025.4 1463,1020.3ZM1475.6,1021.2 1485.6,1009.4 1485.6,1017.9 1475.6,1029.7ZM1471.3,1025.4 1481.3,1013.6 1489.8,1013.6 1479.8,1025.4ZM1485.6,1009.4 1499,1012.8 1499,1021.2 1485.6,1017.9ZM1489.8,1013.6 1503.2,1017 1494.8,1017 1481.3,1013.6ZM1499,1012.8 1512.4,1014.5 1512.4,1023 1499,1021.2ZM1503.2,1017 1516.7,1018.7 1508.2,1018.7 1494.8,1017ZM1512.4,1014.5 1520.8,1019.5 1520.8,1028 1512.4,1023ZM1516.7,1018.7 1525,1023.7 1516.5,1023.7 1508.2,1018.7ZM1520.8,1019.5 1527.5,1012.8 1527.5,1021.2 1520.8,1028ZM1516.5,1023.7 1523.2,1017 1531.8,1017 1525,1023.7ZM1527.5,1012.8 1551,1013.5 1551,1022 1527.5,1021.2ZM1531.8,1017 1555.2,1017.8 1546.8,1017.8 1523.2,1017Z"/>
<path fill="#00ffff" stroke="none" d="M172,261 175.9,263.7 175.9,273.7 172,271ZM177,266 180.9,268.7 170.9,268.7 167,266ZM175.9,263.7 181,269 181,279 175.9,273.7ZM180.9,268.7 186,274 176,274 170.9,268.7ZM181,269 187.8,272.9 187.8,282.9 181,279ZM186,274 192.8,277.9 182.8,277.9 176,274ZM187.8,272.9 198.4,267.6 198.4,277.6 187.8,282.9ZM182.8,277.9 193.4,272.6 203.4,272.6 192.8,277.9ZM198.4,267.6 207.6,262.3 207.6,272.3 198.4,277.6ZM193.4,272.6 202.6,267.3 212.6,267.3 203.4,272.6ZM207.6,262.3 212.9,250.4 212.9,260.4 207.6,272.3ZM202.6,267.3 207.9,255.4 217.9,255.4 212.6,267.3ZM212.9,250.4 216.9,237.2 216.9,247.2 212.9,260.4ZM207.9,255.4 211.9,242.2 221.9,242.2 217.9,255.4ZM216.9,237.2 223.5,229.3 223.5,239.3 216.9,247.2ZM211.9,242.2 218.5,234.3 228.5,234.3 221.9,242.2ZM223.5,229.3 228.7,222.7 228.7,232.7 223.5,239.3ZM218.5,234.3 223.7,227.7 233.7,227.7 228.5,234.3ZM228.7,222.7 230,204.2 230,214.2 228.7,232.7ZM223.7,227.7 225,209.2 235,209.2 233.7,227.7ZM230,204.2 234,188.4 234,198.4 230,214.2ZM225,209.2 229,193.4 239,193.4 235,209.2ZM234,188.4 239.3,177.8 239.3,187.8 234,198.4ZM229,193.4 234.3,182.8 244.3,182.8 239,193.4ZM239.3,177.8 245.9,165.9 245.9,175.9 239.3,187.8ZM234.3,182.8 240.9,170.9 250.9,170.9 244.3,182.8ZM245.9,165.9 253.8,156.7 253.8,166.7 245.9,175.9ZM240.9,170.9 248.8,161.7 258.8,161.7 250.9,170.9ZM253.8,156.7 259.1,146.1 259.1,156.1 253.8,166.7ZM248.8,161.7 254.1,151.1 264.1,151.1 258.8,161.7ZM259.1,146.1 265.7,143.5 265.7,153.5 259.1,156.1ZM254.1,151.1 260.7,148.5 270.7,148.5 264.1,151.1ZM265.7,143.5 271,147.4 271,157.4 265.7,153.5ZM270.7,148.5 276,152.4 266,152.4 260.7,148.5ZM271,147.4 275,162 275,172 271,157.4ZM276,152.4 280,167 270,167 266,152.4ZM275,162 277.6,177.8 277.6,187.8 275,172ZM280,167 282.6,182.8 272.6,182.8 270,167ZM277.6,177.8 279.6,197.6 279.6,207.6 277.6,187.8ZM282.6,182.8 284.6,202.6 274.6,202.6 272.6,182.8ZM279.6,197.6 281.6,224 281.6,234 279.6,207.6ZM284.6,202.6 286.6,229 276.6,229 274.6,202.6ZM281.6,224 284.2,250.4 284.2,260.4 281.6,234ZM286.6,229 289.2,255.4 279.2,255.4 276.6,229ZM284.2,260.4 283.3,290.3 283.3,280.3 284.2,250.4ZM289.2,255.4 288.3,285.3 278.3,285.3 279.2,255.4ZM283.3,280.3 286.5,312.9 286.5,322.9 283.3,290.3ZM288.3,285.3 291.5,317.9 281.5,317.9 278.3,285.3ZM286.5,312.9 289.8,345.5 289.8,355.5 286.5,322.9ZM291.5,317.9 294.8,350.5 284.8,350.5 281.5,317.9ZM289.8,345.5 293,378.1 293,388.1 289.8,355.5ZM294.8,350.5 298,383.1 288,383.1 284.8,350.5ZM293,378.1 298,417.3 298,427.3 293,388.1ZM298,383.1 303,422.3 293,422.3 288,383.1ZM298,417.3 302.8,459.7 302.8,469.7 298,427.3ZM303,422.3 307.8,464.7 297.8,464.7 293,422.3ZM302.8,459.7 307.7,492.3 307.7,502.3 302.8,469.7ZM307.8,464.7 312.7,497.3 302.7,497.3 297.8,464.7ZM307.7,492.3 312.6,525 312.6,535 307.7,502.3ZM312.7,497.3 317.6,530 307.6,530 302.7,497.3ZM312.6,525 317.5,557.6 317.5,567.6 312.6,535ZM317.6,530 322.5,562.6 312.5,562.6 307.6,530ZM317.5,557.6 322.4,590.2 322.4,600.2 317.5,567.6ZM322.5,562.6 327.4,595.2 317.4,595.2 312.5,562.6ZM322.4,590.2 326,605 326,615 322.4,600.2ZM327.4,595.2 331,610 321,610 317.4,595.2ZM326,605 329,613 329,623 326,615ZM331,610 334,618 324,618 321,610ZM329,613 332.2,595 332.2,605 329,623ZM324,618 327.2,600 337.2,600 334,618ZM332.2,595 335,570 335,580 332.2,605ZM327.2,600 330,575 340,575 337.2,600ZM335,570 338.7,541.3 338.7,551.3 335,580ZM330,575 333.7,546.3 343.7,546.3 340,575ZM338.7,541.3 345.3,492.3 345.3,502.3 338.7,551.3ZM333.7,546.3 340.3,497.3 350.3,497.3 343.7,546.3ZM345.3,492.3 351.8,443.4 351.8,453.4 345.3,502.3ZM340.3,497.3 346.8,448.4 356.8,448.4 350.3,497.3ZM351.8,443.4 358.3,394.4 358.3,404.4 351.8,453.4ZM346.8,448.4 353.3,399.4 363.3,399.4 356.8,448.4ZM358.3,394.4 363.2,361.8 363.2,371.8 358.3,404.4ZM353.3,399.4 358.2,366.8 368.2,366.8 363.3,399.4ZM363.2,361.8 368.1,329.2 368.1,339.2 363.2,371.8ZM358.2,366.8 363.1,334.2 373.1,334.2 368.2,366.8ZM368.1,329.2 373,296.6 373,306.6 368.1,339.2ZM363.1,334.2 368,301.6 378,301.6 373.1,334.2ZM373,296.6 377.9,270.5 377.9,280.5 373,306.6ZM368,301.6 372.9,275.5 382.9,275.5 378,301.6ZM377.9,270.5 382,253 382,263 377.9,280.5ZM372.9,275.5 377,258 387,258 382.9,275.5ZM382,253 387.7,241.1 387.7,251.1 382,263ZM377,258 382.7,246.1 392.7,246.1 387,258ZM387.7,241.1 393,233 393,243 387.7,251.1ZM382.7,246.1 388,238 398,238 392.7,246.1ZM393,233 399.1,229.7 399.1,239.7 393,243ZM388,238 394.1,234.7 404.1,234.7 398,238ZM399.1,229.7 405,233 405,243 399.1,239.7ZM404.1,234.7 410,238 400,238 394.1,234.7ZM405,233 410.5,241.1 410.5,251.1 405,243ZM410,238 415.5,246.1 405.5,246.1 400,238ZM410.5,241.1 417,257 417,267 410.5,251.1ZM415.5,246.1 422,262 412,262 405.5,246.1ZM417,257 423.6,280.3 423.6,290.3 417,267ZM422,262 428.6,285.3 418.6,285.3 412,262ZM423.6,280.3 428.5,310 428.5,320 423.6,290.3ZM428.6,285.3 433.5,315 423.5,315 418.6,285.3ZM428.5,310 433.3,345.5 433.3,355.5 428.5,320ZM433.5,315 438.3,350.5 428.3,350.5 423.5,315ZM433.3,345.5 438,385 438,395 433.3,355.5ZM438.3,350.5 443,390 433,390 428.3,350.5ZM438,385 443.1,427.1 443.1,437.1 438,395ZM443,390 448.1,432.1 438.1,432.1 433,390ZM443.1,427.1 448,468 448,478 443.1,437.1ZM448.1,432.1 453,473 443,473 438.1,432.1ZM448,468 452.9,508.6 452.9,518.6 448,478ZM453,473 457.9,513.6 447.9,513.6 443,473ZM452.9,508.6 457.8,573.9 457.8,583.9 452.9,518.6ZM457.9,513.6 462.8,578.9 452.8,578.9 447.9,513.6ZM457.8,573.9 461.1,635.2 461.1,645.2 457.8,583.9ZM462.8,578.9 466.1,640.2 456.1,640.2 452.8,578.9ZM461.1,635.2 465.5,708.7 465.5,718.7 461.1,645.2ZM466.1,640.2 470.5,713.7 460.5,713.7 456.1,640.2ZM465.5,708.7 470.3,772.4 470.3,782.4 465.5,718.7ZM470.5,713.7 475.3,777.4 465.3,777.4 460.5,713.7ZM470.3,772.4 476.6,836 476.6,846 470.3,782.4ZM475.3,777.4 481.6,841 471.6,841 465.3,777.4ZM476.6,836 483,899.8 483,909.8 476.6,846ZM481.6,841 488,904.8 478,904.8 471.6,841ZM483,899.8 491,947.5 491,957.5 483,909.8ZM488,904.8 496,952.5 486,952.5 478,904.8ZM491,947.5 500.5,989 500.5,999 491,957.5ZM496,952.5 505.5,994 495.5,994 486,952.5ZM500.5,989 513.2,1017.6 513.2,1027.6 500.5,999ZM505.5,994 518.2,1022.6 508.2,1022.6 495.5,994ZM513.2,1017.6 529.2,1032 529.2,1042 513.2,1027.6ZM518.2,1022.6 534.2,1037 524.2,1037 508.2,1022.6ZM529.2,1032 551.5,1038.3 551.5,1048.3 529.2,1042ZM534.2,1037 556.5,1043.3 546.5,1043.3 524.2,1037ZM551.5,1038.3 583.3,1040 583.3,1050 551.5,1048.3ZM556.5,1043.3 588.3,1045 578.3,1045 546.5,1043.3ZM583.3,1040 640,1040.9 640,1050.9 583.3,1050ZM588.3,1045 645,1045.9 635,1045.9 578.3,1045ZM640,1040.9 760,1041.5 760,1051.5 640,1050.9ZM645,1045.9 765,1046.5 755,1046.5 635,1045.9ZM760,1041.5 920,1042 920,1052 760,1051.5ZM765,1046.5 925,1047 915,1047 755,1046.5ZM920,1042 1300,1042 1300,1052 920,1052ZM1300,1042 1551,1042 1551,1052 1300,1052Z"/>
</g>
<rect x="171" y="42.5" width="1382" height="1019.5" fill="none" stroke="#000" stroke-width="8.5"/>
<line x1="171.0" y1="1062" x2="171.0" y2="1086" stroke="#000" stroke-width="7"/>
<line x1="401.3" y1="1062" x2="401.3" y2="1075" stroke="#000" stroke-width="7"/>
<line x1="631.7" y1="1062" x2="631.7" y2="1086" stroke="#000" stroke-width="7"/>
<line x1="862.0" y1="1062" x2="862.0" y2="1075" stroke="#000" stroke-width="7"/>
<line x1="1092.3" y1="1062" x2="1092.3" y2="1086" stroke="#000" stroke-width="7"/>
<line x1="1322.7" y1="1062" x2="1322.7" y2="1075" stroke="#000" stroke-width="7"/>
<line x1="1553.0" y1="1062" x2="1553.0" y2="1086" stroke="#000" stroke-width="7"/>
<text x="171.0" y="1139" font-size="54.5" text-anchor="middle">200</text>
<text x="631.7" y="1139" font-size="54.5" text-anchor="middle">400</text>
<text x="1092.3" y="1139" font-size="54.5" text-anchor="middle">600</text>
<text x="1553.0" y="1139" font-size="54.5" text-anchor="middle">800</text>
<text x="861.8" y="1254" font-size="69.7" text-anchor="middle">Wavelenght (nm)</text>
<text transform="translate(78,522) rotate(-90)" font-size="71.5" text-anchor="middle">Absorbance (a.u)</text>
<line x1="900" y1="110.3" x2="1013" y2="110.3" stroke="#3300ff" stroke-width="8" stroke-linecap="round"/>
<text x="1012" y="126.6" font-size="49" xml:space="preserve">TiO2_EAN(1:10)_24h</text>
<line x1="900" y1="173.0" x2="1013" y2="173.0" stroke="#00e014" stroke-width="8" stroke-linecap="round"/>
<text x="1012" y="189.0" font-size="49" xml:space="preserve">TiO2_EAN(1:8)_24h</text>
<line x1="900" y1="235.0" x2="1013" y2="235.0" stroke="#f81a20" stroke-width="8" stroke-linecap="round"/>
<text x="1012" y="251.3" font-size="49" xml:space="preserve">TiO2_EAN(1:5)_24h</text>
<line x1="900" y1="297.8" x2="1013" y2="297.8" stroke="#1a0080" stroke-width="8" stroke-linecap="round"/>
<text x="1012" y="313.7" font-size="49" xml:space="preserve">TiO2_EAN(1:3)_24h</text>
<line x1="900" y1="360.7" x2="1013" y2="360.7" stroke="#000000" stroke-width="8" stroke-linecap="round"/>
<text x="1012" y="377.5" font-size="49" xml:space="preserve">TiO2_EAN(1:2)_24h</text>
<line x1="900" y1="424.0" x2="1013" y2="424.0" stroke="#009eff" stroke-width="8" stroke-linecap="round"/>
<text x="1012" y="440.0" font-size="49" xml:space="preserve">TiO2_EAN(1:1)_24h</text>
<line x1="900" y1="485.6" x2="1013" y2="485.6" stroke="#ff00ff" stroke-width="8" stroke-linecap="round"/>
<text x="1012" y="502.3" font-size="49" xml:space="preserve">TiO2_pristine</text>
<line x1="902" y1="546.1" x2="1017" y2="546.1" stroke="#00ffff" stroke-width="8" stroke-linecap="round"/>
<text x="1027" y="562.9" font-size="49" xml:space="preserve">IL_ PURE</text>
</g>
</svg>
</body></html>
